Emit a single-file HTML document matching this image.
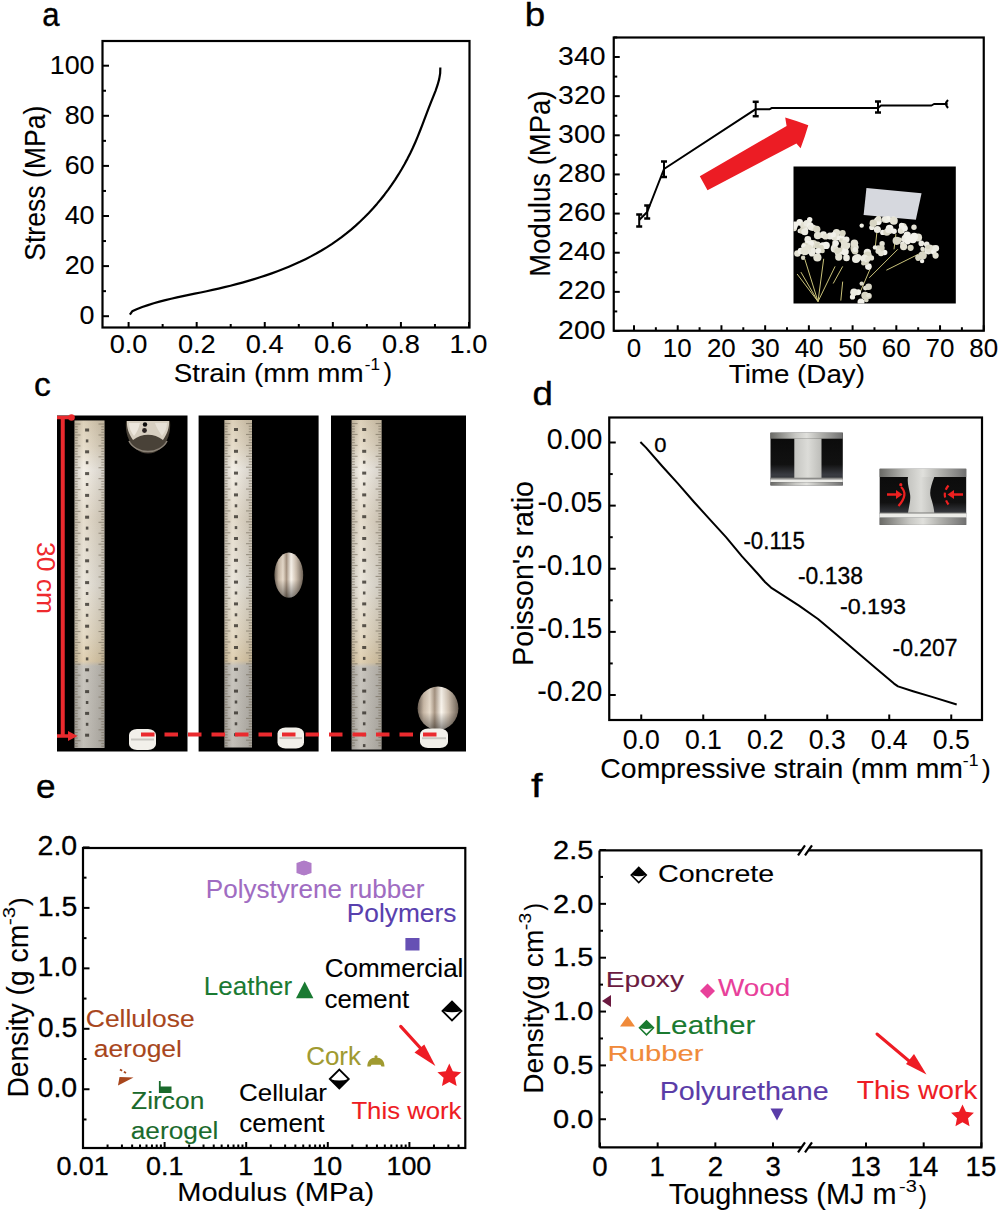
<!DOCTYPE html>
<html><head><meta charset="utf-8"><style>
html,body{margin:0;padding:0;background:#fff;}
svg{display:block;}
text{font-family:"Liberation Sans",sans-serif;}
</style></head><body>
<svg width="1000" height="1213" viewBox="0 0 1000 1213">
<rect width="1000" height="1213" fill="#fff"/>
<text transform="translate(42.18,26.30) scale(0.9161,1)" font-size="34" fill="#000" stroke="#000" stroke-width="0.35">a</text>
<text transform="translate(524.64,26.30) scale(1.0791,1)" font-size="34" fill="#000" stroke="#000" stroke-width="0.35">b</text>
<text transform="translate(34.07,395.70) scale(0.9891,1)" font-size="34" fill="#000" stroke="#000" stroke-width="0.35">c</text>
<text transform="translate(532.46,405.00) scale(1.0791,1)" font-size="34" fill="#000" stroke="#000" stroke-width="0.35">d</text>
<text transform="translate(36.01,797.50) scale(1.0342,1)" font-size="34" fill="#000" stroke="#000" stroke-width="0.35">e</text>
<text transform="translate(530.91,797.30) scale(1.2202,1)" font-size="34" fill="#000" stroke="#000" stroke-width="0.35">f</text>
<rect x="102.50" y="41.00" width="367.00" height="286.50" fill="none" stroke="#000" stroke-width="2.2"/>
<line x1="102.50" y1="316.20" x2="109.00" y2="316.20" stroke="#000" stroke-width="2"/>
<text transform="translate(79.60,324.35) scale(1.0300,1)" font-size="26.1" fill="#000" stroke="#000" stroke-width="0.1">0</text>
<line x1="102.50" y1="291.15" x2="106.00" y2="291.15" stroke="#000" stroke-width="2"/>
<line x1="102.50" y1="266.10" x2="109.00" y2="266.10" stroke="#000" stroke-width="2"/>
<text transform="translate(64.65,274.25) scale(1.0300,1)" font-size="26.1" fill="#000" stroke="#000" stroke-width="0.1">20</text>
<line x1="102.50" y1="241.05" x2="106.00" y2="241.05" stroke="#000" stroke-width="2"/>
<line x1="102.50" y1="216.00" x2="109.00" y2="216.00" stroke="#000" stroke-width="2"/>
<text transform="translate(64.65,224.15) scale(1.0300,1)" font-size="26.1" fill="#000" stroke="#000" stroke-width="0.1">40</text>
<line x1="102.50" y1="190.95" x2="106.00" y2="190.95" stroke="#000" stroke-width="2"/>
<line x1="102.50" y1="165.90" x2="109.00" y2="165.90" stroke="#000" stroke-width="2"/>
<text transform="translate(64.65,174.05) scale(1.0300,1)" font-size="26.1" fill="#000" stroke="#000" stroke-width="0.1">60</text>
<line x1="102.50" y1="140.85" x2="106.00" y2="140.85" stroke="#000" stroke-width="2"/>
<line x1="102.50" y1="115.80" x2="109.00" y2="115.80" stroke="#000" stroke-width="2"/>
<text transform="translate(64.65,123.95) scale(1.0300,1)" font-size="26.1" fill="#000" stroke="#000" stroke-width="0.1">80</text>
<line x1="102.50" y1="90.75" x2="106.00" y2="90.75" stroke="#000" stroke-width="2"/>
<line x1="102.50" y1="65.70" x2="109.00" y2="65.70" stroke="#000" stroke-width="2"/>
<text transform="translate(49.70,73.85) scale(1.0300,1)" font-size="26.1" fill="#000" stroke="#000" stroke-width="0.1">100</text>
<line x1="128.60" y1="327.50" x2="128.60" y2="322.00" stroke="#000" stroke-width="2"/>
<text transform="translate(109.66,352.85) scale(1.0900,1)" font-size="25.0" fill="#000" stroke="#000" stroke-width="0.1">0.0</text>
<line x1="162.64" y1="327.50" x2="162.64" y2="324.00" stroke="#000" stroke-width="2"/>
<line x1="196.68" y1="327.50" x2="196.68" y2="322.00" stroke="#000" stroke-width="2"/>
<text transform="translate(177.89,352.85) scale(1.0900,1)" font-size="25.0" fill="#000" stroke="#000" stroke-width="0.1">0.2</text>
<line x1="230.72" y1="327.50" x2="230.72" y2="324.00" stroke="#000" stroke-width="2"/>
<line x1="264.76" y1="327.50" x2="264.76" y2="322.00" stroke="#000" stroke-width="2"/>
<text transform="translate(245.69,352.85) scale(1.0900,1)" font-size="25.0" fill="#000" stroke="#000" stroke-width="0.1">0.4</text>
<line x1="298.80" y1="327.50" x2="298.80" y2="324.00" stroke="#000" stroke-width="2"/>
<line x1="332.84" y1="327.50" x2="332.84" y2="322.00" stroke="#000" stroke-width="2"/>
<text transform="translate(313.97,352.85) scale(1.0900,1)" font-size="25.0" fill="#000" stroke="#000" stroke-width="0.1">0.6</text>
<line x1="366.88" y1="327.50" x2="366.88" y2="324.00" stroke="#000" stroke-width="2"/>
<line x1="400.92" y1="327.50" x2="400.92" y2="322.00" stroke="#000" stroke-width="2"/>
<text transform="translate(382.04,352.85) scale(1.0900,1)" font-size="25.0" fill="#000" stroke="#000" stroke-width="0.1">0.8</text>
<line x1="434.96" y1="327.50" x2="434.96" y2="324.00" stroke="#000" stroke-width="2"/>
<line x1="469.00" y1="327.50" x2="469.00" y2="322.00" stroke="#000" stroke-width="2"/>
<text transform="translate(449.55,352.85) scale(1.0900,1)" font-size="25.0" fill="#000" stroke="#000" stroke-width="0.1">1.0</text>
<text transform="translate(173.74,382.00) scale(1.0448,1)" font-size="26.6" fill="#000" stroke="#000" stroke-width="0.1">Strain (mm mm</text>
<text transform="translate(364.84,369.80) scale(1.0680,1)" font-size="16" fill="#000" stroke="#000" stroke-width="0.1">-1</text>
<text transform="translate(383.45,381.40) scale(0.9864,1)" font-size="26" fill="#000" stroke="#000" stroke-width="0.1">)</text>
<text transform="translate(45.30,259.60) rotate(-90) scale(0.9021,1) translate(-1.34,0)" font-size="29.5" fill="#000" stroke="#000" stroke-width="0.1">Stress (MPa)</text>
<polyline points="129.90,314.70 132.20,311.30 136.61,309.28 142.24,307.08 147.97,305.11 153.72,303.31 159.51,301.66 165.32,300.14 171.16,298.73 177.03,297.39 182.91,296.12 188.81,294.89 194.73,293.68 200.67,292.46 206.62,291.22 212.57,289.93 218.54,288.59 224.50,287.18 230.47,285.72 236.42,284.18 242.36,282.58 248.28,280.90 254.18,279.15 260.06,277.31 265.90,275.38 271.70,273.36 277.46,271.25 283.18,269.04 288.85,266.73 294.45,264.31 300.00,261.79 305.49,259.14 310.90,256.38 316.24,253.50 321.50,250.49 326.67,247.35 331.76,244.07 336.75,240.66 341.64,237.10 346.43,233.41 351.12,229.57 355.70,225.60 360.17,221.50 364.53,217.28 368.78,212.94 372.92,208.48 376.93,203.91 380.83,199.24 384.61,194.46 388.27,189.59 391.80,184.63 395.21,179.58 398.48,174.45 401.63,169.24 404.64,163.96 407.52,158.61 410.27,153.19 412.87,147.72 415.34,142.19 417.69,136.62 419.94,131.00 422.14,125.33 424.31,119.64 426.48,113.91 428.67,108.15 430.93,102.38 433.25,96.58 435.54,90.78 437.58,84.97 439.19,79.15 440.17,73.34 440.33,67.53" fill="none" stroke="#000" stroke-width="2.2" stroke-linejoin="round"/>
<rect x="613.75" y="37.50" width="370.00" height="293.25" fill="none" stroke="#000" stroke-width="2.2"/>
<line x1="613.75" y1="331.00" x2="619.75" y2="331.00" stroke="#000" stroke-width="2"/>
<text transform="translate(558.10,338.50) scale(1.1100,1)" font-size="25.6" fill="#000" stroke="#000" stroke-width="0.1">200</text>
<line x1="613.75" y1="311.43" x2="617.25" y2="311.43" stroke="#000" stroke-width="2"/>
<line x1="613.75" y1="291.86" x2="619.75" y2="291.86" stroke="#000" stroke-width="2"/>
<text transform="translate(558.10,299.36) scale(1.1100,1)" font-size="25.6" fill="#000" stroke="#000" stroke-width="0.1">220</text>
<line x1="613.75" y1="272.29" x2="617.25" y2="272.29" stroke="#000" stroke-width="2"/>
<line x1="613.75" y1="252.72" x2="619.75" y2="252.72" stroke="#000" stroke-width="2"/>
<text transform="translate(558.10,260.22) scale(1.1100,1)" font-size="25.6" fill="#000" stroke="#000" stroke-width="0.1">240</text>
<line x1="613.75" y1="233.15" x2="617.25" y2="233.15" stroke="#000" stroke-width="2"/>
<line x1="613.75" y1="213.58" x2="619.75" y2="213.58" stroke="#000" stroke-width="2"/>
<text transform="translate(558.10,221.08) scale(1.1100,1)" font-size="25.6" fill="#000" stroke="#000" stroke-width="0.1">260</text>
<line x1="613.75" y1="194.01" x2="617.25" y2="194.01" stroke="#000" stroke-width="2"/>
<line x1="613.75" y1="174.44" x2="619.75" y2="174.44" stroke="#000" stroke-width="2"/>
<text transform="translate(558.10,181.94) scale(1.1100,1)" font-size="25.6" fill="#000" stroke="#000" stroke-width="0.1">280</text>
<line x1="613.75" y1="154.87" x2="617.25" y2="154.87" stroke="#000" stroke-width="2"/>
<line x1="613.75" y1="135.30" x2="619.75" y2="135.30" stroke="#000" stroke-width="2"/>
<text transform="translate(558.10,142.80) scale(1.1100,1)" font-size="25.6" fill="#000" stroke="#000" stroke-width="0.1">300</text>
<line x1="613.75" y1="115.73" x2="617.25" y2="115.73" stroke="#000" stroke-width="2"/>
<line x1="613.75" y1="96.16" x2="619.75" y2="96.16" stroke="#000" stroke-width="2"/>
<text transform="translate(558.10,103.66) scale(1.1100,1)" font-size="25.6" fill="#000" stroke="#000" stroke-width="0.1">320</text>
<line x1="613.75" y1="76.59" x2="617.25" y2="76.59" stroke="#000" stroke-width="2"/>
<line x1="613.75" y1="57.02" x2="619.75" y2="57.02" stroke="#000" stroke-width="2"/>
<text transform="translate(558.10,64.52) scale(1.1100,1)" font-size="25.6" fill="#000" stroke="#000" stroke-width="0.1">340</text>
<line x1="613.75" y1="37.45" x2="617.25" y2="37.45" stroke="#000" stroke-width="2"/>
<line x1="634.00" y1="330.75" x2="634.00" y2="325.25" stroke="#000" stroke-width="2"/>
<text transform="translate(626.80,356.85) scale(1.0000,1)" font-size="25.9" fill="#000" stroke="#000" stroke-width="0.1">0</text>
<line x1="655.86" y1="330.75" x2="655.86" y2="327.25" stroke="#000" stroke-width="2"/>
<line x1="677.72" y1="330.75" x2="677.72" y2="325.25" stroke="#000" stroke-width="2"/>
<text transform="translate(662.84,356.85) scale(1.0000,1)" font-size="25.9" fill="#000" stroke="#000" stroke-width="0.1">10</text>
<line x1="699.58" y1="330.75" x2="699.58" y2="327.25" stroke="#000" stroke-width="2"/>
<line x1="721.44" y1="330.75" x2="721.44" y2="325.25" stroke="#000" stroke-width="2"/>
<text transform="translate(706.89,356.85) scale(1.0000,1)" font-size="25.9" fill="#000" stroke="#000" stroke-width="0.1">20</text>
<line x1="743.30" y1="330.75" x2="743.30" y2="327.25" stroke="#000" stroke-width="2"/>
<line x1="765.16" y1="330.75" x2="765.16" y2="325.25" stroke="#000" stroke-width="2"/>
<text transform="translate(750.77,356.85) scale(1.0000,1)" font-size="25.9" fill="#000" stroke="#000" stroke-width="0.1">30</text>
<line x1="787.02" y1="330.75" x2="787.02" y2="327.25" stroke="#000" stroke-width="2"/>
<line x1="808.88" y1="330.75" x2="808.88" y2="325.25" stroke="#000" stroke-width="2"/>
<text transform="translate(794.68,356.85) scale(1.0000,1)" font-size="25.9" fill="#000" stroke="#000" stroke-width="0.1">40</text>
<line x1="830.74" y1="330.75" x2="830.74" y2="327.25" stroke="#000" stroke-width="2"/>
<line x1="852.60" y1="330.75" x2="852.60" y2="325.25" stroke="#000" stroke-width="2"/>
<text transform="translate(838.18,356.85) scale(1.0000,1)" font-size="25.9" fill="#000" stroke="#000" stroke-width="0.1">50</text>
<line x1="874.46" y1="330.75" x2="874.46" y2="327.25" stroke="#000" stroke-width="2"/>
<line x1="896.32" y1="330.75" x2="896.32" y2="325.25" stroke="#000" stroke-width="2"/>
<text transform="translate(881.76,356.85) scale(1.0000,1)" font-size="25.9" fill="#000" stroke="#000" stroke-width="0.1">60</text>
<line x1="918.18" y1="330.75" x2="918.18" y2="327.25" stroke="#000" stroke-width="2"/>
<line x1="940.04" y1="330.75" x2="940.04" y2="325.25" stroke="#000" stroke-width="2"/>
<text transform="translate(925.48,356.85) scale(1.0000,1)" font-size="25.9" fill="#000" stroke="#000" stroke-width="0.1">70</text>
<line x1="961.90" y1="330.75" x2="961.90" y2="327.25" stroke="#000" stroke-width="2"/>
<line x1="983.76" y1="330.75" x2="983.76" y2="325.25" stroke="#000" stroke-width="2"/>
<text transform="translate(969.30,356.85) scale(1.0000,1)" font-size="25.9" fill="#000" stroke="#000" stroke-width="0.1">80</text>
<text transform="translate(728.78,383.40) scale(1.0843,1)" font-size="25.6" fill="#000" stroke="#000" stroke-width="0.1">Time (Day)</text>
<text transform="translate(549.90,274.40) rotate(-90) scale(0.9468,1) translate(-2.38,0)" font-size="29.0" fill="#000" stroke="#000" stroke-width="0.1">Modulus (MPa)</text>
<polyline points="639.20,220.00 647.20,212.00 664.00,169.00 755.70,109.20 769.80,109.20 772.00,107.90 878.00,108.00 881.00,105.50 931.50,105.50 934.00,104.00 947.50,104.00" fill="none" stroke="#000" stroke-width="2.0" stroke-linejoin="round"/>
<line x1="639.20" y1="214.50" x2="639.20" y2="226.50" stroke="#000" stroke-width="2"/>
<line x1="636.20" y1="214.50" x2="642.20" y2="214.50" stroke="#000" stroke-width="2.5"/>
<line x1="636.20" y1="226.50" x2="642.20" y2="226.50" stroke="#000" stroke-width="2.5"/>
<line x1="647.20" y1="205.50" x2="647.20" y2="218.50" stroke="#000" stroke-width="2"/>
<line x1="644.20" y1="205.50" x2="650.20" y2="205.50" stroke="#000" stroke-width="2.5"/>
<line x1="644.20" y1="218.50" x2="650.20" y2="218.50" stroke="#000" stroke-width="2.5"/>
<line x1="664.00" y1="161.50" x2="664.00" y2="177.00" stroke="#000" stroke-width="2"/>
<line x1="661.00" y1="161.50" x2="667.00" y2="161.50" stroke="#000" stroke-width="2.5"/>
<line x1="661.00" y1="177.00" x2="667.00" y2="177.00" stroke="#000" stroke-width="2.5"/>
<line x1="755.70" y1="101.80" x2="755.70" y2="116.20" stroke="#000" stroke-width="2"/>
<line x1="752.70" y1="101.80" x2="758.70" y2="101.80" stroke="#000" stroke-width="2.5"/>
<line x1="752.70" y1="116.20" x2="758.70" y2="116.20" stroke="#000" stroke-width="2.5"/>
<line x1="878.00" y1="101.50" x2="878.00" y2="112.50" stroke="#000" stroke-width="2"/>
<line x1="875.00" y1="101.50" x2="881.00" y2="101.50" stroke="#000" stroke-width="2.5"/>
<line x1="875.00" y1="112.50" x2="881.00" y2="112.50" stroke="#000" stroke-width="2.5"/>
<path d="M948,100 Q944,104 948,108" fill="none" stroke="#000" stroke-width="2.2"/>
<polygon points="699.80,176.30 707.50,190.30 796.40,143.40 800.60,148.30 804.80,136.40 808.30,125.20 796.40,121.00 785.20,117.50 786.60,125.90" fill="#ec1c24"/>
<rect x="793.50" y="166.50" width="162.30" height="137.00" fill="#000"/>
<clipPath id="cb"><rect x="793.5" y="166.5" width="162.3" height="137"/></clipPath>
<g clip-path="url(#cb)">
<line x1="818.00" y1="301.55" x2="800.90" y2="272.10" stroke="#c9c27a" stroke-width="1.0"/>
<line x1="818.00" y1="301.55" x2="804.70" y2="258.80" stroke="#c9c27a" stroke-width="1.0"/>
<line x1="818.00" y1="301.55" x2="823.70" y2="258.80" stroke="#c9c27a" stroke-width="1.0"/>
<line x1="818.00" y1="301.55" x2="835.10" y2="266.40" stroke="#c9c27a" stroke-width="1.0"/>
<line x1="833.20" y1="283.50" x2="842.70" y2="266.40" stroke="#c9c27a" stroke-width="1.0"/>
<line x1="840.80" y1="300.60" x2="842.70" y2="281.60" stroke="#c9c27a" stroke-width="1.0"/>
<line x1="869.30" y1="277.80" x2="897.80" y2="249.30" stroke="#c9c27a" stroke-width="1.0"/>
<line x1="859.80" y1="293.00" x2="871.20" y2="266.40" stroke="#c9c27a" stroke-width="1.0"/>
<line x1="886.40" y1="270.20" x2="924.40" y2="251.20" stroke="#c9c27a" stroke-width="1.0"/>
<line x1="875.00" y1="249.30" x2="876.90" y2="232.20" stroke="#c9c27a" stroke-width="1.0"/>
<line x1="894.00" y1="249.30" x2="895.90" y2="234.10" stroke="#c9c27a" stroke-width="1.0"/>
<line x1="797.10" y1="274.00" x2="818.00" y2="301.55" stroke="#c9c27a" stroke-width="1.0"/>
<polygon points="866.45,188.12 921.55,193.25 915.85,219.85 863.60,215.10" fill="#d6d8de" filter="url(#fb)"/>
<filter id="fb" x="-10%" y="-10%" width="120%" height="120%"><feGaussianBlur stdDeviation="0.55"/></filter>
<g filter="url(#fb)">
<circle cx="804.3" cy="229.5" r="3.5" fill="#ecebe2"/>
<circle cx="808.4" cy="224.1" r="3.4" fill="#e4e2d4"/>
<circle cx="815.1" cy="227.8" r="2.3" fill="#ecebe2"/>
<circle cx="803.5" cy="225.8" r="3.3" fill="#e4e2d4"/>
<circle cx="799.7" cy="221.7" r="2.3" fill="#d8d6c4"/>
<circle cx="812.6" cy="227.7" r="3.3" fill="#e4e2d4"/>
<circle cx="805.4" cy="229.6" r="2.4" fill="#f2f1ea"/>
<circle cx="796.4" cy="223.9" r="2.4" fill="#e4e2d4"/>
<circle cx="799.8" cy="231.0" r="2.3" fill="#ecebe2"/>
<circle cx="799.7" cy="222.4" r="3.3" fill="#f2f1ea"/>
<circle cx="794.1" cy="228.3" r="2.9" fill="#e4e2d4"/>
<circle cx="809.7" cy="219.6" r="2.7" fill="#f2f1ea"/>
<circle cx="794.3" cy="225.2" r="3.7" fill="#f2f1ea"/>
<circle cx="803.8" cy="225.0" r="3.2" fill="#e4e2d4"/>
<circle cx="806.8" cy="223.2" r="3.2" fill="#ecebe2"/>
<circle cx="810.2" cy="225.9" r="3.3" fill="#f2f1ea"/>
<circle cx="802.4" cy="230.8" r="3.2" fill="#d8d6c4"/>
<circle cx="810.3" cy="227.6" r="2.7" fill="#ecebe2"/>
<circle cx="816.9" cy="229.2" r="3.5" fill="#d8d6c4"/>
<circle cx="804.8" cy="231.7" r="3.5" fill="#ecebe2"/>
<circle cx="842.1" cy="239.4" r="3.4" fill="#d8d6c4"/>
<circle cx="848.0" cy="245.0" r="2.5" fill="#e4e2d4"/>
<circle cx="811.9" cy="247.7" r="3.2" fill="#e4e2d4"/>
<circle cx="813.4" cy="244.1" r="4.0" fill="#d8d6c4"/>
<circle cx="837.3" cy="237.5" r="3.0" fill="#f2f1ea"/>
<circle cx="823.6" cy="235.8" r="2.7" fill="#ecebe2"/>
<circle cx="834.3" cy="246.2" r="2.7" fill="#d8d6c4"/>
<circle cx="834.1" cy="237.8" r="2.8" fill="#e4e2d4"/>
<circle cx="817.3" cy="244.8" r="3.3" fill="#e4e2d4"/>
<circle cx="823.4" cy="234.7" r="3.4" fill="#ecebe2"/>
<circle cx="808.9" cy="244.3" r="4.1" fill="#d8d6c4"/>
<circle cx="817.9" cy="245.6" r="3.2" fill="#d8d6c4"/>
<circle cx="834.9" cy="242.7" r="2.6" fill="#e4e2d4"/>
<circle cx="843.0" cy="246.9" r="2.4" fill="#e4e2d4"/>
<circle cx="807.8" cy="239.4" r="3.4" fill="#ecebe2"/>
<circle cx="842.0" cy="235.9" r="2.5" fill="#f2f1ea"/>
<circle cx="846.4" cy="239.5" r="3.1" fill="#ecebe2"/>
<circle cx="842.6" cy="233.2" r="3.1" fill="#d8d6c4"/>
<circle cx="826.1" cy="245.4" r="3.7" fill="#f2f1ea"/>
<circle cx="810.6" cy="242.9" r="3.2" fill="#e4e2d4"/>
<circle cx="845.2" cy="239.4" r="2.5" fill="#ecebe2"/>
<circle cx="830.0" cy="236.0" r="3.5" fill="#ecebe2"/>
<circle cx="825.5" cy="236.7" r="2.9" fill="#e4e2d4"/>
<circle cx="822.8" cy="245.6" r="3.3" fill="#f2f1ea"/>
<circle cx="817.7" cy="235.5" r="3.8" fill="#e4e2d4"/>
<circle cx="836.5" cy="232.8" r="3.7" fill="#e4e2d4"/>
<circle cx="834.4" cy="248.7" r="3.7" fill="#ecebe2"/>
<circle cx="833.3" cy="234.7" r="2.6" fill="#f2f1ea"/>
<circle cx="808.5" cy="245.0" r="4.2" fill="#f2f1ea"/>
<circle cx="835.8" cy="243.3" r="3.1" fill="#f2f1ea"/>
<circle cx="856.0" cy="259.1" r="4.0" fill="#ecebe2"/>
<circle cx="838.5" cy="252.3" r="3.8" fill="#ecebe2"/>
<circle cx="855.2" cy="248.1" r="3.0" fill="#e4e2d4"/>
<circle cx="845.0" cy="251.8" r="3.8" fill="#f2f1ea"/>
<circle cx="866.4" cy="256.5" r="3.6" fill="#d8d6c4"/>
<circle cx="838.7" cy="257.1" r="3.6" fill="#e4e2d4"/>
<circle cx="855.0" cy="251.1" r="3.4" fill="#d8d6c4"/>
<circle cx="854.5" cy="247.5" r="3.9" fill="#d8d6c4"/>
<circle cx="846.6" cy="246.0" r="3.3" fill="#e4e2d4"/>
<circle cx="867.4" cy="252.5" r="3.7" fill="#ecebe2"/>
<circle cx="835.9" cy="249.5" r="3.1" fill="#e4e2d4"/>
<circle cx="855.8" cy="246.9" r="2.7" fill="#f2f1ea"/>
<circle cx="837.3" cy="251.1" r="2.9" fill="#d8d6c4"/>
<circle cx="854.3" cy="249.0" r="3.7" fill="#d8d6c4"/>
<circle cx="844.1" cy="243.2" r="3.2" fill="#e4e2d4"/>
<circle cx="840.1" cy="249.7" r="2.2" fill="#d8d6c4"/>
<circle cx="854.4" cy="243.2" r="3.8" fill="#e4e2d4"/>
<circle cx="857.7" cy="257.6" r="3.7" fill="#ecebe2"/>
<circle cx="846.5" cy="257.9" r="3.3" fill="#ecebe2"/>
<circle cx="855.2" cy="249.5" r="2.6" fill="#ecebe2"/>
<circle cx="810.0" cy="245.2" r="3.3" fill="#ecebe2"/>
<circle cx="797.4" cy="253.5" r="3.2" fill="#e4e2d4"/>
<circle cx="804.9" cy="245.8" r="3.3" fill="#d8d6c4"/>
<circle cx="800.9" cy="251.0" r="3.2" fill="#f2f1ea"/>
<circle cx="821.2" cy="247.4" r="2.6" fill="#d8d6c4"/>
<circle cx="812.0" cy="253.5" r="3.1" fill="#ecebe2"/>
<circle cx="803.8" cy="246.3" r="2.6" fill="#f2f1ea"/>
<circle cx="811.5" cy="243.3" r="2.5" fill="#f2f1ea"/>
<circle cx="817.4" cy="257.5" r="4.1" fill="#e4e2d4"/>
<circle cx="808.4" cy="248.6" r="4.0" fill="#e4e2d4"/>
<circle cx="822.3" cy="250.7" r="2.5" fill="#d8d6c4"/>
<circle cx="818.2" cy="251.0" r="3.0" fill="#f2f1ea"/>
<circle cx="803.1" cy="257.8" r="2.2" fill="#d8d6c4"/>
<circle cx="806.6" cy="251.6" r="2.9" fill="#f2f1ea"/>
<circle cx="804.7" cy="251.0" r="4.2" fill="#e4e2d4"/>
<circle cx="813.3" cy="250.7" r="2.7" fill="#ecebe2"/>
<circle cx="866.6" cy="258.9" r="3.7" fill="#d8d6c4"/>
<circle cx="867.7" cy="255.6" r="4.1" fill="#d8d6c4"/>
<circle cx="868.4" cy="266.6" r="3.3" fill="#f2f1ea"/>
<circle cx="865.3" cy="261.7" r="3.6" fill="#d8d6c4"/>
<circle cx="867.1" cy="258.3" r="2.2" fill="#ecebe2"/>
<circle cx="864.4" cy="258.6" r="3.9" fill="#ecebe2"/>
<circle cx="863.3" cy="263.3" r="2.2" fill="#d8d6c4"/>
<circle cx="867.6" cy="259.0" r="2.5" fill="#e4e2d4"/>
<circle cx="871.4" cy="257.9" r="2.7" fill="#e4e2d4"/>
<circle cx="889.9" cy="231.1" r="2.8" fill="#e4e2d4"/>
<circle cx="882.7" cy="232.4" r="2.6" fill="#f2f1ea"/>
<circle cx="893.3" cy="218.5" r="2.3" fill="#ecebe2"/>
<circle cx="884.8" cy="220.2" r="2.6" fill="#d8d6c4"/>
<circle cx="886.8" cy="232.2" r="3.5" fill="#d8d6c4"/>
<circle cx="877.8" cy="221.2" r="4.0" fill="#f2f1ea"/>
<circle cx="878.5" cy="218.7" r="2.9" fill="#e4e2d4"/>
<circle cx="876.2" cy="229.3" r="2.3" fill="#e4e2d4"/>
<circle cx="902.9" cy="227.1" r="4.0" fill="#d8d6c4"/>
<circle cx="889.6" cy="228.6" r="3.9" fill="#f2f1ea"/>
<circle cx="872.3" cy="222.4" r="2.3" fill="#e4e2d4"/>
<circle cx="894.1" cy="231.3" r="2.7" fill="#f2f1ea"/>
<circle cx="901.6" cy="225.4" r="2.7" fill="#f2f1ea"/>
<circle cx="888.2" cy="230.1" r="2.9" fill="#ecebe2"/>
<circle cx="871.8" cy="227.5" r="2.6" fill="#ecebe2"/>
<circle cx="902.3" cy="230.7" r="2.5" fill="#ecebe2"/>
<circle cx="877.4" cy="229.4" r="3.5" fill="#ecebe2"/>
<circle cx="873.3" cy="223.3" r="3.7" fill="#d8d6c4"/>
<circle cx="888.0" cy="219.3" r="3.2" fill="#f2f1ea"/>
<circle cx="883.7" cy="219.7" r="2.3" fill="#d8d6c4"/>
<circle cx="884.5" cy="218.8" r="2.5" fill="#ecebe2"/>
<circle cx="893.8" cy="220.7" r="4.0" fill="#e4e2d4"/>
<circle cx="911.7" cy="239.2" r="3.5" fill="#ecebe2"/>
<circle cx="902.4" cy="243.7" r="2.3" fill="#ecebe2"/>
<circle cx="901.0" cy="230.6" r="3.2" fill="#ecebe2"/>
<circle cx="905.6" cy="238.8" r="4.1" fill="#ecebe2"/>
<circle cx="907.2" cy="235.2" r="3.7" fill="#f2f1ea"/>
<circle cx="914.0" cy="227.3" r="2.7" fill="#e4e2d4"/>
<circle cx="910.6" cy="247.8" r="3.1" fill="#d8d6c4"/>
<circle cx="921.3" cy="243.4" r="2.8" fill="#ecebe2"/>
<circle cx="900.7" cy="231.3" r="2.4" fill="#e4e2d4"/>
<circle cx="903.6" cy="246.6" r="3.6" fill="#e4e2d4"/>
<circle cx="912.7" cy="238.1" r="2.7" fill="#ecebe2"/>
<circle cx="905.0" cy="228.4" r="2.8" fill="#f2f1ea"/>
<circle cx="899.7" cy="239.8" r="2.4" fill="#e4e2d4"/>
<circle cx="907.6" cy="241.3" r="3.1" fill="#f2f1ea"/>
<circle cx="896.7" cy="240.8" r="4.1" fill="#d8d6c4"/>
<circle cx="918.1" cy="237.6" r="4.0" fill="#e4e2d4"/>
<circle cx="913.0" cy="239.6" r="3.7" fill="#f2f1ea"/>
<circle cx="914.2" cy="236.6" r="3.8" fill="#f2f1ea"/>
<circle cx="933.5" cy="247.9" r="2.7" fill="#d8d6c4"/>
<circle cx="922.7" cy="255.4" r="4.1" fill="#d8d6c4"/>
<circle cx="918.2" cy="257.6" r="3.0" fill="#d8d6c4"/>
<circle cx="922.1" cy="261.1" r="2.2" fill="#f2f1ea"/>
<circle cx="928.4" cy="250.3" r="4.1" fill="#ecebe2"/>
<circle cx="931.3" cy="250.1" r="2.9" fill="#d8d6c4"/>
<circle cx="918.1" cy="258.7" r="2.4" fill="#d8d6c4"/>
<circle cx="926.7" cy="244.3" r="2.8" fill="#ecebe2"/>
<circle cx="929.4" cy="248.7" r="4.1" fill="#e4e2d4"/>
<circle cx="933.7" cy="252.0" r="2.8" fill="#f2f1ea"/>
<circle cx="927.9" cy="247.0" r="2.3" fill="#d8d6c4"/>
<circle cx="935.8" cy="248.3" r="3.3" fill="#ecebe2"/>
<circle cx="935.6" cy="255.6" r="3.1" fill="#e4e2d4"/>
<circle cx="922.6" cy="249.1" r="2.3" fill="#e4e2d4"/>
<circle cx="884.6" cy="252.5" r="2.8" fill="#f2f1ea"/>
<circle cx="882.1" cy="243.7" r="2.7" fill="#e4e2d4"/>
<circle cx="881.0" cy="253.3" r="3.0" fill="#e4e2d4"/>
<circle cx="881.5" cy="248.1" r="3.2" fill="#d8d6c4"/>
<circle cx="878.3" cy="248.1" r="2.9" fill="#d8d6c4"/>
<circle cx="878.2" cy="251.2" r="2.7" fill="#e4e2d4"/>
<circle cx="857.9" cy="292.6" r="2.7" fill="#f2f1ea"/>
<circle cx="861.7" cy="283.6" r="2.2" fill="#d8d6c4"/>
<circle cx="852.5" cy="296.9" r="2.6" fill="#f2f1ea"/>
<circle cx="858.3" cy="292.0" r="2.8" fill="#f2f1ea"/>
<circle cx="865.5" cy="295.9" r="3.5" fill="#e4e2d4"/>
<circle cx="868.8" cy="296.1" r="3.0" fill="#d8d6c4"/>
<circle cx="854.0" cy="292.3" r="3.8" fill="#ecebe2"/>
<circle cx="865.0" cy="295.4" r="3.7" fill="#d8d6c4"/>
<circle cx="867.6" cy="287.4" r="2.3" fill="#d8d6c4"/>
<circle cx="865.4" cy="288.1" r="2.4" fill="#e4e2d4"/>
<circle cx="866.3" cy="299.9" r="2.4" fill="#d8d6c4"/>
<circle cx="868.5" cy="295.2" r="2.2" fill="#e4e2d4"/>
<circle cx="861.0" cy="301.9" r="3.5" fill="#f2f1ea"/>
<circle cx="868.6" cy="286.7" r="3.3" fill="#d8d6c4"/>
<circle cx="861.7" cy="225.6" r="2.2" fill="#eeeee4"/>
<circle cx="875.0" cy="247.4" r="2.2" fill="#eeeee4"/>
<circle cx="886.4" cy="220.8" r="2.2" fill="#eeeee4"/>
</g>
</g>
<defs>
<linearGradient id="rul" x1="0" y1="0" x2="0" y2="1">
<stop offset="0" stop-color="#d8cab0"/><stop offset="0.08" stop-color="#e4d9c4"/><stop offset="0.15" stop-color="#f2ede4"/><stop offset="0.3" stop-color="#e2d8c6"/>
<stop offset="0.5" stop-color="#e8e3d8"/><stop offset="0.66" stop-color="#e2d6be"/><stop offset="0.735" stop-color="#dccaa8"/><stop offset="0.75" stop-color="#c2beb6"/><stop offset="1" stop-color="#bab6ae"/>
</linearGradient>
<linearGradient id="rul2" x1="0" y1="0" x2="1" y2="0">
<stop offset="0" stop-color="#000" stop-opacity="0.15"/><stop offset="0.3" stop-color="#fff" stop-opacity="0.12"/><stop offset="1" stop-color="#000" stop-opacity="0.12"/>
</linearGradient>
<radialGradient id="met" cx="0.45" cy="0.4" r="0.6">
<stop offset="0" stop-color="#e8e4de"/><stop offset="0.45" stop-color="#b0a89e"/><stop offset="0.8" stop-color="#6a625a"/><stop offset="1" stop-color="#3a342e"/>
</radialGradient>
</defs>
<rect x="57.00" y="415.50" width="130.50" height="336.00" fill="#000"/>
<rect x="198.60" y="415.50" width="120.00" height="336.00" fill="#000"/>
<rect x="331.00" y="415.50" width="135.00" height="336.00" fill="#000"/>
<rect x="74.50" y="420.50" width="30.00" height="327.50" fill="url(#rul)"/>
<rect x="74.50" y="420.50" width="30.00" height="327.50" fill="url(#rul2)"/>
<rect x="85.10" y="428.50" width="4.00" height="3.00" fill="#2a2620" opacity="0.75"/>
<rect x="85.85" y="439.40" width="2.50" height="3.00" fill="#2a2620" opacity="0.75"/>
<rect x="85.10" y="450.30" width="4.00" height="3.00" fill="#2a2620" opacity="0.75"/>
<rect x="85.85" y="461.20" width="2.50" height="3.00" fill="#2a2620" opacity="0.75"/>
<rect x="85.10" y="472.10" width="4.00" height="3.00" fill="#2a2620" opacity="0.75"/>
<rect x="85.85" y="483.00" width="2.50" height="3.00" fill="#2a2620" opacity="0.75"/>
<rect x="85.10" y="493.90" width="4.00" height="3.00" fill="#2a2620" opacity="0.75"/>
<rect x="85.85" y="504.80" width="2.50" height="3.00" fill="#2a2620" opacity="0.75"/>
<rect x="85.10" y="515.70" width="4.00" height="3.00" fill="#2a2620" opacity="0.75"/>
<rect x="85.85" y="526.60" width="2.50" height="3.00" fill="#2a2620" opacity="0.75"/>
<rect x="85.10" y="537.50" width="4.00" height="3.00" fill="#2a2620" opacity="0.75"/>
<rect x="85.85" y="548.40" width="2.50" height="3.00" fill="#2a2620" opacity="0.75"/>
<rect x="85.10" y="559.30" width="4.00" height="3.00" fill="#2a2620" opacity="0.75"/>
<rect x="85.85" y="570.20" width="2.50" height="3.00" fill="#2a2620" opacity="0.75"/>
<rect x="85.10" y="581.10" width="4.00" height="3.00" fill="#2a2620" opacity="0.75"/>
<rect x="85.85" y="592.00" width="2.50" height="3.00" fill="#2a2620" opacity="0.75"/>
<rect x="85.10" y="602.90" width="4.00" height="3.00" fill="#2a2620" opacity="0.75"/>
<rect x="85.85" y="613.80" width="2.50" height="3.00" fill="#2a2620" opacity="0.75"/>
<rect x="85.10" y="624.70" width="4.00" height="3.00" fill="#2a2620" opacity="0.75"/>
<rect x="85.85" y="635.60" width="2.50" height="3.00" fill="#2a2620" opacity="0.75"/>
<rect x="85.10" y="646.50" width="4.00" height="3.00" fill="#2a2620" opacity="0.75"/>
<rect x="85.85" y="657.40" width="2.50" height="3.00" fill="#2a2620" opacity="0.75"/>
<rect x="85.10" y="668.30" width="4.00" height="3.00" fill="#2a2620" opacity="0.75"/>
<rect x="85.85" y="679.20" width="2.50" height="3.00" fill="#2a2620" opacity="0.75"/>
<rect x="85.10" y="690.10" width="4.00" height="3.00" fill="#2a2620" opacity="0.75"/>
<rect x="85.85" y="701.00" width="2.50" height="3.00" fill="#2a2620" opacity="0.75"/>
<rect x="85.10" y="711.90" width="4.00" height="3.00" fill="#2a2620" opacity="0.75"/>
<rect x="85.85" y="722.80" width="2.50" height="3.00" fill="#2a2620" opacity="0.75"/>
<rect x="85.10" y="733.70" width="4.00" height="3.00" fill="#2a2620" opacity="0.75"/>
<rect x="74.50" y="423.50" width="6.00" height="1.10" fill="#6e6454" opacity="0.55"/>
<rect x="98.50" y="423.50" width="6.00" height="1.10" fill="#6e6454" opacity="0.55"/>
<rect x="74.50" y="426.23" width="3.20" height="1.10" fill="#6e6454" opacity="0.55"/>
<rect x="101.30" y="426.23" width="3.20" height="1.10" fill="#6e6454" opacity="0.55"/>
<rect x="74.50" y="428.96" width="3.20" height="1.10" fill="#6e6454" opacity="0.55"/>
<rect x="101.30" y="428.96" width="3.20" height="1.10" fill="#6e6454" opacity="0.55"/>
<rect x="74.50" y="431.69" width="3.20" height="1.10" fill="#6e6454" opacity="0.55"/>
<rect x="101.30" y="431.69" width="3.20" height="1.10" fill="#6e6454" opacity="0.55"/>
<rect x="74.50" y="434.42" width="6.00" height="1.10" fill="#6e6454" opacity="0.55"/>
<rect x="98.50" y="434.42" width="6.00" height="1.10" fill="#6e6454" opacity="0.55"/>
<rect x="74.50" y="437.15" width="3.20" height="1.10" fill="#6e6454" opacity="0.55"/>
<rect x="101.30" y="437.15" width="3.20" height="1.10" fill="#6e6454" opacity="0.55"/>
<rect x="74.50" y="439.88" width="3.20" height="1.10" fill="#6e6454" opacity="0.55"/>
<rect x="101.30" y="439.88" width="3.20" height="1.10" fill="#6e6454" opacity="0.55"/>
<rect x="74.50" y="442.61" width="3.20" height="1.10" fill="#6e6454" opacity="0.55"/>
<rect x="101.30" y="442.61" width="3.20" height="1.10" fill="#6e6454" opacity="0.55"/>
<rect x="74.50" y="445.34" width="6.00" height="1.10" fill="#6e6454" opacity="0.55"/>
<rect x="98.50" y="445.34" width="6.00" height="1.10" fill="#6e6454" opacity="0.55"/>
<rect x="74.50" y="448.07" width="3.20" height="1.10" fill="#6e6454" opacity="0.55"/>
<rect x="101.30" y="448.07" width="3.20" height="1.10" fill="#6e6454" opacity="0.55"/>
<rect x="74.50" y="450.80" width="3.20" height="1.10" fill="#6e6454" opacity="0.55"/>
<rect x="101.30" y="450.80" width="3.20" height="1.10" fill="#6e6454" opacity="0.55"/>
<rect x="74.50" y="453.53" width="3.20" height="1.10" fill="#6e6454" opacity="0.55"/>
<rect x="101.30" y="453.53" width="3.20" height="1.10" fill="#6e6454" opacity="0.55"/>
<rect x="74.50" y="456.26" width="6.00" height="1.10" fill="#6e6454" opacity="0.55"/>
<rect x="98.50" y="456.26" width="6.00" height="1.10" fill="#6e6454" opacity="0.55"/>
<rect x="74.50" y="458.99" width="3.20" height="1.10" fill="#6e6454" opacity="0.55"/>
<rect x="101.30" y="458.99" width="3.20" height="1.10" fill="#6e6454" opacity="0.55"/>
<rect x="74.50" y="461.72" width="3.20" height="1.10" fill="#6e6454" opacity="0.55"/>
<rect x="101.30" y="461.72" width="3.20" height="1.10" fill="#6e6454" opacity="0.55"/>
<rect x="74.50" y="464.45" width="3.20" height="1.10" fill="#6e6454" opacity="0.55"/>
<rect x="101.30" y="464.45" width="3.20" height="1.10" fill="#6e6454" opacity="0.55"/>
<rect x="74.50" y="467.18" width="6.00" height="1.10" fill="#6e6454" opacity="0.55"/>
<rect x="98.50" y="467.18" width="6.00" height="1.10" fill="#6e6454" opacity="0.55"/>
<rect x="74.50" y="469.91" width="3.20" height="1.10" fill="#6e6454" opacity="0.55"/>
<rect x="101.30" y="469.91" width="3.20" height="1.10" fill="#6e6454" opacity="0.55"/>
<rect x="74.50" y="472.64" width="3.20" height="1.10" fill="#6e6454" opacity="0.55"/>
<rect x="101.30" y="472.64" width="3.20" height="1.10" fill="#6e6454" opacity="0.55"/>
<rect x="74.50" y="475.37" width="3.20" height="1.10" fill="#6e6454" opacity="0.55"/>
<rect x="101.30" y="475.37" width="3.20" height="1.10" fill="#6e6454" opacity="0.55"/>
<rect x="74.50" y="478.10" width="6.00" height="1.10" fill="#6e6454" opacity="0.55"/>
<rect x="98.50" y="478.10" width="6.00" height="1.10" fill="#6e6454" opacity="0.55"/>
<rect x="74.50" y="480.83" width="3.20" height="1.10" fill="#6e6454" opacity="0.55"/>
<rect x="101.30" y="480.83" width="3.20" height="1.10" fill="#6e6454" opacity="0.55"/>
<rect x="74.50" y="483.56" width="3.20" height="1.10" fill="#6e6454" opacity="0.55"/>
<rect x="101.30" y="483.56" width="3.20" height="1.10" fill="#6e6454" opacity="0.55"/>
<rect x="74.50" y="486.29" width="3.20" height="1.10" fill="#6e6454" opacity="0.55"/>
<rect x="101.30" y="486.29" width="3.20" height="1.10" fill="#6e6454" opacity="0.55"/>
<rect x="74.50" y="489.02" width="6.00" height="1.10" fill="#6e6454" opacity="0.55"/>
<rect x="98.50" y="489.02" width="6.00" height="1.10" fill="#6e6454" opacity="0.55"/>
<rect x="74.50" y="491.75" width="3.20" height="1.10" fill="#6e6454" opacity="0.55"/>
<rect x="101.30" y="491.75" width="3.20" height="1.10" fill="#6e6454" opacity="0.55"/>
<rect x="74.50" y="494.48" width="3.20" height="1.10" fill="#6e6454" opacity="0.55"/>
<rect x="101.30" y="494.48" width="3.20" height="1.10" fill="#6e6454" opacity="0.55"/>
<rect x="74.50" y="497.21" width="3.20" height="1.10" fill="#6e6454" opacity="0.55"/>
<rect x="101.30" y="497.21" width="3.20" height="1.10" fill="#6e6454" opacity="0.55"/>
<rect x="74.50" y="499.94" width="6.00" height="1.10" fill="#6e6454" opacity="0.55"/>
<rect x="98.50" y="499.94" width="6.00" height="1.10" fill="#6e6454" opacity="0.55"/>
<rect x="74.50" y="502.67" width="3.20" height="1.10" fill="#6e6454" opacity="0.55"/>
<rect x="101.30" y="502.67" width="3.20" height="1.10" fill="#6e6454" opacity="0.55"/>
<rect x="74.50" y="505.40" width="3.20" height="1.10" fill="#6e6454" opacity="0.55"/>
<rect x="101.30" y="505.40" width="3.20" height="1.10" fill="#6e6454" opacity="0.55"/>
<rect x="74.50" y="508.13" width="3.20" height="1.10" fill="#6e6454" opacity="0.55"/>
<rect x="101.30" y="508.13" width="3.20" height="1.10" fill="#6e6454" opacity="0.55"/>
<rect x="74.50" y="510.86" width="6.00" height="1.10" fill="#6e6454" opacity="0.55"/>
<rect x="98.50" y="510.86" width="6.00" height="1.10" fill="#6e6454" opacity="0.55"/>
<rect x="74.50" y="513.59" width="3.20" height="1.10" fill="#6e6454" opacity="0.55"/>
<rect x="101.30" y="513.59" width="3.20" height="1.10" fill="#6e6454" opacity="0.55"/>
<rect x="74.50" y="516.32" width="3.20" height="1.10" fill="#6e6454" opacity="0.55"/>
<rect x="101.30" y="516.32" width="3.20" height="1.10" fill="#6e6454" opacity="0.55"/>
<rect x="74.50" y="519.05" width="3.20" height="1.10" fill="#6e6454" opacity="0.55"/>
<rect x="101.30" y="519.05" width="3.20" height="1.10" fill="#6e6454" opacity="0.55"/>
<rect x="74.50" y="521.78" width="6.00" height="1.10" fill="#6e6454" opacity="0.55"/>
<rect x="98.50" y="521.78" width="6.00" height="1.10" fill="#6e6454" opacity="0.55"/>
<rect x="74.50" y="524.51" width="3.20" height="1.10" fill="#6e6454" opacity="0.55"/>
<rect x="101.30" y="524.51" width="3.20" height="1.10" fill="#6e6454" opacity="0.55"/>
<rect x="74.50" y="527.24" width="3.20" height="1.10" fill="#6e6454" opacity="0.55"/>
<rect x="101.30" y="527.24" width="3.20" height="1.10" fill="#6e6454" opacity="0.55"/>
<rect x="74.50" y="529.97" width="3.20" height="1.10" fill="#6e6454" opacity="0.55"/>
<rect x="101.30" y="529.97" width="3.20" height="1.10" fill="#6e6454" opacity="0.55"/>
<rect x="74.50" y="532.70" width="6.00" height="1.10" fill="#6e6454" opacity="0.55"/>
<rect x="98.50" y="532.70" width="6.00" height="1.10" fill="#6e6454" opacity="0.55"/>
<rect x="74.50" y="535.43" width="3.20" height="1.10" fill="#6e6454" opacity="0.55"/>
<rect x="101.30" y="535.43" width="3.20" height="1.10" fill="#6e6454" opacity="0.55"/>
<rect x="74.50" y="538.16" width="3.20" height="1.10" fill="#6e6454" opacity="0.55"/>
<rect x="101.30" y="538.16" width="3.20" height="1.10" fill="#6e6454" opacity="0.55"/>
<rect x="74.50" y="540.89" width="3.20" height="1.10" fill="#6e6454" opacity="0.55"/>
<rect x="101.30" y="540.89" width="3.20" height="1.10" fill="#6e6454" opacity="0.55"/>
<rect x="74.50" y="543.62" width="6.00" height="1.10" fill="#6e6454" opacity="0.55"/>
<rect x="98.50" y="543.62" width="6.00" height="1.10" fill="#6e6454" opacity="0.55"/>
<rect x="74.50" y="546.35" width="3.20" height="1.10" fill="#6e6454" opacity="0.55"/>
<rect x="101.30" y="546.35" width="3.20" height="1.10" fill="#6e6454" opacity="0.55"/>
<rect x="74.50" y="549.08" width="3.20" height="1.10" fill="#6e6454" opacity="0.55"/>
<rect x="101.30" y="549.08" width="3.20" height="1.10" fill="#6e6454" opacity="0.55"/>
<rect x="74.50" y="551.81" width="3.20" height="1.10" fill="#6e6454" opacity="0.55"/>
<rect x="101.30" y="551.81" width="3.20" height="1.10" fill="#6e6454" opacity="0.55"/>
<rect x="74.50" y="554.54" width="6.00" height="1.10" fill="#6e6454" opacity="0.55"/>
<rect x="98.50" y="554.54" width="6.00" height="1.10" fill="#6e6454" opacity="0.55"/>
<rect x="74.50" y="557.27" width="3.20" height="1.10" fill="#6e6454" opacity="0.55"/>
<rect x="101.30" y="557.27" width="3.20" height="1.10" fill="#6e6454" opacity="0.55"/>
<rect x="74.50" y="560.00" width="3.20" height="1.10" fill="#6e6454" opacity="0.55"/>
<rect x="101.30" y="560.00" width="3.20" height="1.10" fill="#6e6454" opacity="0.55"/>
<rect x="74.50" y="562.73" width="3.20" height="1.10" fill="#6e6454" opacity="0.55"/>
<rect x="101.30" y="562.73" width="3.20" height="1.10" fill="#6e6454" opacity="0.55"/>
<rect x="74.50" y="565.46" width="6.00" height="1.10" fill="#6e6454" opacity="0.55"/>
<rect x="98.50" y="565.46" width="6.00" height="1.10" fill="#6e6454" opacity="0.55"/>
<rect x="74.50" y="568.19" width="3.20" height="1.10" fill="#6e6454" opacity="0.55"/>
<rect x="101.30" y="568.19" width="3.20" height="1.10" fill="#6e6454" opacity="0.55"/>
<rect x="74.50" y="570.92" width="3.20" height="1.10" fill="#6e6454" opacity="0.55"/>
<rect x="101.30" y="570.92" width="3.20" height="1.10" fill="#6e6454" opacity="0.55"/>
<rect x="74.50" y="573.65" width="3.20" height="1.10" fill="#6e6454" opacity="0.55"/>
<rect x="101.30" y="573.65" width="3.20" height="1.10" fill="#6e6454" opacity="0.55"/>
<rect x="74.50" y="576.38" width="6.00" height="1.10" fill="#6e6454" opacity="0.55"/>
<rect x="98.50" y="576.38" width="6.00" height="1.10" fill="#6e6454" opacity="0.55"/>
<rect x="74.50" y="579.11" width="3.20" height="1.10" fill="#6e6454" opacity="0.55"/>
<rect x="101.30" y="579.11" width="3.20" height="1.10" fill="#6e6454" opacity="0.55"/>
<rect x="74.50" y="581.84" width="3.20" height="1.10" fill="#6e6454" opacity="0.55"/>
<rect x="101.30" y="581.84" width="3.20" height="1.10" fill="#6e6454" opacity="0.55"/>
<rect x="74.50" y="584.57" width="3.20" height="1.10" fill="#6e6454" opacity="0.55"/>
<rect x="101.30" y="584.57" width="3.20" height="1.10" fill="#6e6454" opacity="0.55"/>
<rect x="74.50" y="587.30" width="6.00" height="1.10" fill="#6e6454" opacity="0.55"/>
<rect x="98.50" y="587.30" width="6.00" height="1.10" fill="#6e6454" opacity="0.55"/>
<rect x="74.50" y="590.03" width="3.20" height="1.10" fill="#6e6454" opacity="0.55"/>
<rect x="101.30" y="590.03" width="3.20" height="1.10" fill="#6e6454" opacity="0.55"/>
<rect x="74.50" y="592.76" width="3.20" height="1.10" fill="#6e6454" opacity="0.55"/>
<rect x="101.30" y="592.76" width="3.20" height="1.10" fill="#6e6454" opacity="0.55"/>
<rect x="74.50" y="595.49" width="3.20" height="1.10" fill="#6e6454" opacity="0.55"/>
<rect x="101.30" y="595.49" width="3.20" height="1.10" fill="#6e6454" opacity="0.55"/>
<rect x="74.50" y="598.22" width="6.00" height="1.10" fill="#6e6454" opacity="0.55"/>
<rect x="98.50" y="598.22" width="6.00" height="1.10" fill="#6e6454" opacity="0.55"/>
<rect x="74.50" y="600.95" width="3.20" height="1.10" fill="#6e6454" opacity="0.55"/>
<rect x="101.30" y="600.95" width="3.20" height="1.10" fill="#6e6454" opacity="0.55"/>
<rect x="74.50" y="603.68" width="3.20" height="1.10" fill="#6e6454" opacity="0.55"/>
<rect x="101.30" y="603.68" width="3.20" height="1.10" fill="#6e6454" opacity="0.55"/>
<rect x="74.50" y="606.41" width="3.20" height="1.10" fill="#6e6454" opacity="0.55"/>
<rect x="101.30" y="606.41" width="3.20" height="1.10" fill="#6e6454" opacity="0.55"/>
<rect x="74.50" y="609.14" width="6.00" height="1.10" fill="#6e6454" opacity="0.55"/>
<rect x="98.50" y="609.14" width="6.00" height="1.10" fill="#6e6454" opacity="0.55"/>
<rect x="74.50" y="611.87" width="3.20" height="1.10" fill="#6e6454" opacity="0.55"/>
<rect x="101.30" y="611.87" width="3.20" height="1.10" fill="#6e6454" opacity="0.55"/>
<rect x="74.50" y="614.60" width="3.20" height="1.10" fill="#6e6454" opacity="0.55"/>
<rect x="101.30" y="614.60" width="3.20" height="1.10" fill="#6e6454" opacity="0.55"/>
<rect x="74.50" y="617.33" width="3.20" height="1.10" fill="#6e6454" opacity="0.55"/>
<rect x="101.30" y="617.33" width="3.20" height="1.10" fill="#6e6454" opacity="0.55"/>
<rect x="74.50" y="620.06" width="6.00" height="1.10" fill="#6e6454" opacity="0.55"/>
<rect x="98.50" y="620.06" width="6.00" height="1.10" fill="#6e6454" opacity="0.55"/>
<rect x="74.50" y="622.79" width="3.20" height="1.10" fill="#6e6454" opacity="0.55"/>
<rect x="101.30" y="622.79" width="3.20" height="1.10" fill="#6e6454" opacity="0.55"/>
<rect x="74.50" y="625.52" width="3.20" height="1.10" fill="#6e6454" opacity="0.55"/>
<rect x="101.30" y="625.52" width="3.20" height="1.10" fill="#6e6454" opacity="0.55"/>
<rect x="74.50" y="628.25" width="3.20" height="1.10" fill="#6e6454" opacity="0.55"/>
<rect x="101.30" y="628.25" width="3.20" height="1.10" fill="#6e6454" opacity="0.55"/>
<rect x="74.50" y="630.98" width="6.00" height="1.10" fill="#6e6454" opacity="0.55"/>
<rect x="98.50" y="630.98" width="6.00" height="1.10" fill="#6e6454" opacity="0.55"/>
<rect x="74.50" y="633.71" width="3.20" height="1.10" fill="#6e6454" opacity="0.55"/>
<rect x="101.30" y="633.71" width="3.20" height="1.10" fill="#6e6454" opacity="0.55"/>
<rect x="74.50" y="636.44" width="3.20" height="1.10" fill="#6e6454" opacity="0.55"/>
<rect x="101.30" y="636.44" width="3.20" height="1.10" fill="#6e6454" opacity="0.55"/>
<rect x="74.50" y="639.17" width="3.20" height="1.10" fill="#6e6454" opacity="0.55"/>
<rect x="101.30" y="639.17" width="3.20" height="1.10" fill="#6e6454" opacity="0.55"/>
<rect x="74.50" y="641.90" width="6.00" height="1.10" fill="#6e6454" opacity="0.55"/>
<rect x="98.50" y="641.90" width="6.00" height="1.10" fill="#6e6454" opacity="0.55"/>
<rect x="74.50" y="644.63" width="3.20" height="1.10" fill="#6e6454" opacity="0.55"/>
<rect x="101.30" y="644.63" width="3.20" height="1.10" fill="#6e6454" opacity="0.55"/>
<rect x="74.50" y="647.36" width="3.20" height="1.10" fill="#6e6454" opacity="0.55"/>
<rect x="101.30" y="647.36" width="3.20" height="1.10" fill="#6e6454" opacity="0.55"/>
<rect x="74.50" y="650.09" width="3.20" height="1.10" fill="#6e6454" opacity="0.55"/>
<rect x="101.30" y="650.09" width="3.20" height="1.10" fill="#6e6454" opacity="0.55"/>
<rect x="74.50" y="652.82" width="6.00" height="1.10" fill="#6e6454" opacity="0.55"/>
<rect x="98.50" y="652.82" width="6.00" height="1.10" fill="#6e6454" opacity="0.55"/>
<rect x="74.50" y="655.55" width="3.20" height="1.10" fill="#6e6454" opacity="0.55"/>
<rect x="101.30" y="655.55" width="3.20" height="1.10" fill="#6e6454" opacity="0.55"/>
<rect x="74.50" y="658.28" width="3.20" height="1.10" fill="#6e6454" opacity="0.55"/>
<rect x="101.30" y="658.28" width="3.20" height="1.10" fill="#6e6454" opacity="0.55"/>
<rect x="74.50" y="661.01" width="3.20" height="1.10" fill="#6e6454" opacity="0.55"/>
<rect x="101.30" y="661.01" width="3.20" height="1.10" fill="#6e6454" opacity="0.55"/>
<rect x="74.50" y="663.74" width="6.00" height="1.10" fill="#6e6454" opacity="0.55"/>
<rect x="98.50" y="663.74" width="6.00" height="1.10" fill="#6e6454" opacity="0.55"/>
<rect x="74.50" y="666.47" width="3.20" height="1.10" fill="#6e6454" opacity="0.55"/>
<rect x="101.30" y="666.47" width="3.20" height="1.10" fill="#6e6454" opacity="0.55"/>
<rect x="74.50" y="669.20" width="3.20" height="1.10" fill="#6e6454" opacity="0.55"/>
<rect x="101.30" y="669.20" width="3.20" height="1.10" fill="#6e6454" opacity="0.55"/>
<rect x="74.50" y="671.93" width="3.20" height="1.10" fill="#6e6454" opacity="0.55"/>
<rect x="101.30" y="671.93" width="3.20" height="1.10" fill="#6e6454" opacity="0.55"/>
<rect x="74.50" y="674.66" width="6.00" height="1.10" fill="#6e6454" opacity="0.55"/>
<rect x="98.50" y="674.66" width="6.00" height="1.10" fill="#6e6454" opacity="0.55"/>
<rect x="74.50" y="677.39" width="3.20" height="1.10" fill="#6e6454" opacity="0.55"/>
<rect x="101.30" y="677.39" width="3.20" height="1.10" fill="#6e6454" opacity="0.55"/>
<rect x="74.50" y="680.12" width="3.20" height="1.10" fill="#6e6454" opacity="0.55"/>
<rect x="101.30" y="680.12" width="3.20" height="1.10" fill="#6e6454" opacity="0.55"/>
<rect x="74.50" y="682.85" width="3.20" height="1.10" fill="#6e6454" opacity="0.55"/>
<rect x="101.30" y="682.85" width="3.20" height="1.10" fill="#6e6454" opacity="0.55"/>
<rect x="74.50" y="685.58" width="6.00" height="1.10" fill="#6e6454" opacity="0.55"/>
<rect x="98.50" y="685.58" width="6.00" height="1.10" fill="#6e6454" opacity="0.55"/>
<rect x="74.50" y="688.31" width="3.20" height="1.10" fill="#6e6454" opacity="0.55"/>
<rect x="101.30" y="688.31" width="3.20" height="1.10" fill="#6e6454" opacity="0.55"/>
<rect x="74.50" y="691.04" width="3.20" height="1.10" fill="#6e6454" opacity="0.55"/>
<rect x="101.30" y="691.04" width="3.20" height="1.10" fill="#6e6454" opacity="0.55"/>
<rect x="74.50" y="693.77" width="3.20" height="1.10" fill="#6e6454" opacity="0.55"/>
<rect x="101.30" y="693.77" width="3.20" height="1.10" fill="#6e6454" opacity="0.55"/>
<rect x="74.50" y="696.50" width="6.00" height="1.10" fill="#6e6454" opacity="0.55"/>
<rect x="98.50" y="696.50" width="6.00" height="1.10" fill="#6e6454" opacity="0.55"/>
<rect x="74.50" y="699.23" width="3.20" height="1.10" fill="#6e6454" opacity="0.55"/>
<rect x="101.30" y="699.23" width="3.20" height="1.10" fill="#6e6454" opacity="0.55"/>
<rect x="74.50" y="701.96" width="3.20" height="1.10" fill="#6e6454" opacity="0.55"/>
<rect x="101.30" y="701.96" width="3.20" height="1.10" fill="#6e6454" opacity="0.55"/>
<rect x="74.50" y="704.69" width="3.20" height="1.10" fill="#6e6454" opacity="0.55"/>
<rect x="101.30" y="704.69" width="3.20" height="1.10" fill="#6e6454" opacity="0.55"/>
<rect x="74.50" y="707.42" width="6.00" height="1.10" fill="#6e6454" opacity="0.55"/>
<rect x="98.50" y="707.42" width="6.00" height="1.10" fill="#6e6454" opacity="0.55"/>
<rect x="74.50" y="710.15" width="3.20" height="1.10" fill="#6e6454" opacity="0.55"/>
<rect x="101.30" y="710.15" width="3.20" height="1.10" fill="#6e6454" opacity="0.55"/>
<rect x="74.50" y="712.88" width="3.20" height="1.10" fill="#6e6454" opacity="0.55"/>
<rect x="101.30" y="712.88" width="3.20" height="1.10" fill="#6e6454" opacity="0.55"/>
<rect x="74.50" y="715.61" width="3.20" height="1.10" fill="#6e6454" opacity="0.55"/>
<rect x="101.30" y="715.61" width="3.20" height="1.10" fill="#6e6454" opacity="0.55"/>
<rect x="74.50" y="718.34" width="6.00" height="1.10" fill="#6e6454" opacity="0.55"/>
<rect x="98.50" y="718.34" width="6.00" height="1.10" fill="#6e6454" opacity="0.55"/>
<rect x="74.50" y="721.07" width="3.20" height="1.10" fill="#6e6454" opacity="0.55"/>
<rect x="101.30" y="721.07" width="3.20" height="1.10" fill="#6e6454" opacity="0.55"/>
<rect x="74.50" y="723.80" width="3.20" height="1.10" fill="#6e6454" opacity="0.55"/>
<rect x="101.30" y="723.80" width="3.20" height="1.10" fill="#6e6454" opacity="0.55"/>
<rect x="74.50" y="726.53" width="3.20" height="1.10" fill="#6e6454" opacity="0.55"/>
<rect x="101.30" y="726.53" width="3.20" height="1.10" fill="#6e6454" opacity="0.55"/>
<rect x="74.50" y="729.26" width="6.00" height="1.10" fill="#6e6454" opacity="0.55"/>
<rect x="98.50" y="729.26" width="6.00" height="1.10" fill="#6e6454" opacity="0.55"/>
<rect x="74.50" y="731.99" width="3.20" height="1.10" fill="#6e6454" opacity="0.55"/>
<rect x="101.30" y="731.99" width="3.20" height="1.10" fill="#6e6454" opacity="0.55"/>
<rect x="74.50" y="734.72" width="3.20" height="1.10" fill="#6e6454" opacity="0.55"/>
<rect x="101.30" y="734.72" width="3.20" height="1.10" fill="#6e6454" opacity="0.55"/>
<rect x="74.50" y="737.45" width="3.20" height="1.10" fill="#6e6454" opacity="0.55"/>
<rect x="101.30" y="737.45" width="3.20" height="1.10" fill="#6e6454" opacity="0.55"/>
<rect x="74.50" y="740.18" width="6.00" height="1.10" fill="#6e6454" opacity="0.55"/>
<rect x="98.50" y="740.18" width="6.00" height="1.10" fill="#6e6454" opacity="0.55"/>
<rect x="74.50" y="742.91" width="3.20" height="1.10" fill="#6e6454" opacity="0.55"/>
<rect x="101.30" y="742.91" width="3.20" height="1.10" fill="#6e6454" opacity="0.55"/>
<rect x="74.50" y="745.64" width="3.20" height="1.10" fill="#6e6454" opacity="0.55"/>
<rect x="101.30" y="745.64" width="3.20" height="1.10" fill="#6e6454" opacity="0.55"/>
<rect x="224.40" y="420.00" width="27.60" height="327.50" fill="url(#rul)"/>
<rect x="224.40" y="420.00" width="27.60" height="327.50" fill="url(#rul2)"/>
<rect x="233.99" y="428.00" width="4.00" height="3.00" fill="#2a2620" opacity="0.75"/>
<rect x="234.74" y="438.90" width="2.50" height="3.00" fill="#2a2620" opacity="0.75"/>
<rect x="233.99" y="449.80" width="4.00" height="3.00" fill="#2a2620" opacity="0.75"/>
<rect x="234.74" y="460.70" width="2.50" height="3.00" fill="#2a2620" opacity="0.75"/>
<rect x="233.99" y="471.60" width="4.00" height="3.00" fill="#2a2620" opacity="0.75"/>
<rect x="234.74" y="482.50" width="2.50" height="3.00" fill="#2a2620" opacity="0.75"/>
<rect x="233.99" y="493.40" width="4.00" height="3.00" fill="#2a2620" opacity="0.75"/>
<rect x="234.74" y="504.30" width="2.50" height="3.00" fill="#2a2620" opacity="0.75"/>
<rect x="233.99" y="515.20" width="4.00" height="3.00" fill="#2a2620" opacity="0.75"/>
<rect x="234.74" y="526.10" width="2.50" height="3.00" fill="#2a2620" opacity="0.75"/>
<rect x="233.99" y="537.00" width="4.00" height="3.00" fill="#2a2620" opacity="0.75"/>
<rect x="234.74" y="547.90" width="2.50" height="3.00" fill="#2a2620" opacity="0.75"/>
<rect x="233.99" y="558.80" width="4.00" height="3.00" fill="#2a2620" opacity="0.75"/>
<rect x="234.74" y="569.70" width="2.50" height="3.00" fill="#2a2620" opacity="0.75"/>
<rect x="233.99" y="580.60" width="4.00" height="3.00" fill="#2a2620" opacity="0.75"/>
<rect x="234.74" y="591.50" width="2.50" height="3.00" fill="#2a2620" opacity="0.75"/>
<rect x="233.99" y="602.40" width="4.00" height="3.00" fill="#2a2620" opacity="0.75"/>
<rect x="234.74" y="613.30" width="2.50" height="3.00" fill="#2a2620" opacity="0.75"/>
<rect x="233.99" y="624.20" width="4.00" height="3.00" fill="#2a2620" opacity="0.75"/>
<rect x="234.74" y="635.10" width="2.50" height="3.00" fill="#2a2620" opacity="0.75"/>
<rect x="233.99" y="646.00" width="4.00" height="3.00" fill="#2a2620" opacity="0.75"/>
<rect x="234.74" y="656.90" width="2.50" height="3.00" fill="#2a2620" opacity="0.75"/>
<rect x="233.99" y="667.80" width="4.00" height="3.00" fill="#2a2620" opacity="0.75"/>
<rect x="234.74" y="678.70" width="2.50" height="3.00" fill="#2a2620" opacity="0.75"/>
<rect x="233.99" y="689.60" width="4.00" height="3.00" fill="#2a2620" opacity="0.75"/>
<rect x="234.74" y="700.50" width="2.50" height="3.00" fill="#2a2620" opacity="0.75"/>
<rect x="233.99" y="711.40" width="4.00" height="3.00" fill="#2a2620" opacity="0.75"/>
<rect x="234.74" y="722.30" width="2.50" height="3.00" fill="#2a2620" opacity="0.75"/>
<rect x="233.99" y="733.20" width="4.00" height="3.00" fill="#2a2620" opacity="0.75"/>
<rect x="224.40" y="423.00" width="6.00" height="1.10" fill="#6e6454" opacity="0.55"/>
<rect x="246.00" y="423.00" width="6.00" height="1.10" fill="#6e6454" opacity="0.55"/>
<rect x="224.40" y="425.73" width="3.20" height="1.10" fill="#6e6454" opacity="0.55"/>
<rect x="248.80" y="425.73" width="3.20" height="1.10" fill="#6e6454" opacity="0.55"/>
<rect x="224.40" y="428.46" width="3.20" height="1.10" fill="#6e6454" opacity="0.55"/>
<rect x="248.80" y="428.46" width="3.20" height="1.10" fill="#6e6454" opacity="0.55"/>
<rect x="224.40" y="431.19" width="3.20" height="1.10" fill="#6e6454" opacity="0.55"/>
<rect x="248.80" y="431.19" width="3.20" height="1.10" fill="#6e6454" opacity="0.55"/>
<rect x="224.40" y="433.92" width="6.00" height="1.10" fill="#6e6454" opacity="0.55"/>
<rect x="246.00" y="433.92" width="6.00" height="1.10" fill="#6e6454" opacity="0.55"/>
<rect x="224.40" y="436.65" width="3.20" height="1.10" fill="#6e6454" opacity="0.55"/>
<rect x="248.80" y="436.65" width="3.20" height="1.10" fill="#6e6454" opacity="0.55"/>
<rect x="224.40" y="439.38" width="3.20" height="1.10" fill="#6e6454" opacity="0.55"/>
<rect x="248.80" y="439.38" width="3.20" height="1.10" fill="#6e6454" opacity="0.55"/>
<rect x="224.40" y="442.11" width="3.20" height="1.10" fill="#6e6454" opacity="0.55"/>
<rect x="248.80" y="442.11" width="3.20" height="1.10" fill="#6e6454" opacity="0.55"/>
<rect x="224.40" y="444.84" width="6.00" height="1.10" fill="#6e6454" opacity="0.55"/>
<rect x="246.00" y="444.84" width="6.00" height="1.10" fill="#6e6454" opacity="0.55"/>
<rect x="224.40" y="447.57" width="3.20" height="1.10" fill="#6e6454" opacity="0.55"/>
<rect x="248.80" y="447.57" width="3.20" height="1.10" fill="#6e6454" opacity="0.55"/>
<rect x="224.40" y="450.30" width="3.20" height="1.10" fill="#6e6454" opacity="0.55"/>
<rect x="248.80" y="450.30" width="3.20" height="1.10" fill="#6e6454" opacity="0.55"/>
<rect x="224.40" y="453.03" width="3.20" height="1.10" fill="#6e6454" opacity="0.55"/>
<rect x="248.80" y="453.03" width="3.20" height="1.10" fill="#6e6454" opacity="0.55"/>
<rect x="224.40" y="455.76" width="6.00" height="1.10" fill="#6e6454" opacity="0.55"/>
<rect x="246.00" y="455.76" width="6.00" height="1.10" fill="#6e6454" opacity="0.55"/>
<rect x="224.40" y="458.49" width="3.20" height="1.10" fill="#6e6454" opacity="0.55"/>
<rect x="248.80" y="458.49" width="3.20" height="1.10" fill="#6e6454" opacity="0.55"/>
<rect x="224.40" y="461.22" width="3.20" height="1.10" fill="#6e6454" opacity="0.55"/>
<rect x="248.80" y="461.22" width="3.20" height="1.10" fill="#6e6454" opacity="0.55"/>
<rect x="224.40" y="463.95" width="3.20" height="1.10" fill="#6e6454" opacity="0.55"/>
<rect x="248.80" y="463.95" width="3.20" height="1.10" fill="#6e6454" opacity="0.55"/>
<rect x="224.40" y="466.68" width="6.00" height="1.10" fill="#6e6454" opacity="0.55"/>
<rect x="246.00" y="466.68" width="6.00" height="1.10" fill="#6e6454" opacity="0.55"/>
<rect x="224.40" y="469.41" width="3.20" height="1.10" fill="#6e6454" opacity="0.55"/>
<rect x="248.80" y="469.41" width="3.20" height="1.10" fill="#6e6454" opacity="0.55"/>
<rect x="224.40" y="472.14" width="3.20" height="1.10" fill="#6e6454" opacity="0.55"/>
<rect x="248.80" y="472.14" width="3.20" height="1.10" fill="#6e6454" opacity="0.55"/>
<rect x="224.40" y="474.87" width="3.20" height="1.10" fill="#6e6454" opacity="0.55"/>
<rect x="248.80" y="474.87" width="3.20" height="1.10" fill="#6e6454" opacity="0.55"/>
<rect x="224.40" y="477.60" width="6.00" height="1.10" fill="#6e6454" opacity="0.55"/>
<rect x="246.00" y="477.60" width="6.00" height="1.10" fill="#6e6454" opacity="0.55"/>
<rect x="224.40" y="480.33" width="3.20" height="1.10" fill="#6e6454" opacity="0.55"/>
<rect x="248.80" y="480.33" width="3.20" height="1.10" fill="#6e6454" opacity="0.55"/>
<rect x="224.40" y="483.06" width="3.20" height="1.10" fill="#6e6454" opacity="0.55"/>
<rect x="248.80" y="483.06" width="3.20" height="1.10" fill="#6e6454" opacity="0.55"/>
<rect x="224.40" y="485.79" width="3.20" height="1.10" fill="#6e6454" opacity="0.55"/>
<rect x="248.80" y="485.79" width="3.20" height="1.10" fill="#6e6454" opacity="0.55"/>
<rect x="224.40" y="488.52" width="6.00" height="1.10" fill="#6e6454" opacity="0.55"/>
<rect x="246.00" y="488.52" width="6.00" height="1.10" fill="#6e6454" opacity="0.55"/>
<rect x="224.40" y="491.25" width="3.20" height="1.10" fill="#6e6454" opacity="0.55"/>
<rect x="248.80" y="491.25" width="3.20" height="1.10" fill="#6e6454" opacity="0.55"/>
<rect x="224.40" y="493.98" width="3.20" height="1.10" fill="#6e6454" opacity="0.55"/>
<rect x="248.80" y="493.98" width="3.20" height="1.10" fill="#6e6454" opacity="0.55"/>
<rect x="224.40" y="496.71" width="3.20" height="1.10" fill="#6e6454" opacity="0.55"/>
<rect x="248.80" y="496.71" width="3.20" height="1.10" fill="#6e6454" opacity="0.55"/>
<rect x="224.40" y="499.44" width="6.00" height="1.10" fill="#6e6454" opacity="0.55"/>
<rect x="246.00" y="499.44" width="6.00" height="1.10" fill="#6e6454" opacity="0.55"/>
<rect x="224.40" y="502.17" width="3.20" height="1.10" fill="#6e6454" opacity="0.55"/>
<rect x="248.80" y="502.17" width="3.20" height="1.10" fill="#6e6454" opacity="0.55"/>
<rect x="224.40" y="504.90" width="3.20" height="1.10" fill="#6e6454" opacity="0.55"/>
<rect x="248.80" y="504.90" width="3.20" height="1.10" fill="#6e6454" opacity="0.55"/>
<rect x="224.40" y="507.63" width="3.20" height="1.10" fill="#6e6454" opacity="0.55"/>
<rect x="248.80" y="507.63" width="3.20" height="1.10" fill="#6e6454" opacity="0.55"/>
<rect x="224.40" y="510.36" width="6.00" height="1.10" fill="#6e6454" opacity="0.55"/>
<rect x="246.00" y="510.36" width="6.00" height="1.10" fill="#6e6454" opacity="0.55"/>
<rect x="224.40" y="513.09" width="3.20" height="1.10" fill="#6e6454" opacity="0.55"/>
<rect x="248.80" y="513.09" width="3.20" height="1.10" fill="#6e6454" opacity="0.55"/>
<rect x="224.40" y="515.82" width="3.20" height="1.10" fill="#6e6454" opacity="0.55"/>
<rect x="248.80" y="515.82" width="3.20" height="1.10" fill="#6e6454" opacity="0.55"/>
<rect x="224.40" y="518.55" width="3.20" height="1.10" fill="#6e6454" opacity="0.55"/>
<rect x="248.80" y="518.55" width="3.20" height="1.10" fill="#6e6454" opacity="0.55"/>
<rect x="224.40" y="521.28" width="6.00" height="1.10" fill="#6e6454" opacity="0.55"/>
<rect x="246.00" y="521.28" width="6.00" height="1.10" fill="#6e6454" opacity="0.55"/>
<rect x="224.40" y="524.01" width="3.20" height="1.10" fill="#6e6454" opacity="0.55"/>
<rect x="248.80" y="524.01" width="3.20" height="1.10" fill="#6e6454" opacity="0.55"/>
<rect x="224.40" y="526.74" width="3.20" height="1.10" fill="#6e6454" opacity="0.55"/>
<rect x="248.80" y="526.74" width="3.20" height="1.10" fill="#6e6454" opacity="0.55"/>
<rect x="224.40" y="529.47" width="3.20" height="1.10" fill="#6e6454" opacity="0.55"/>
<rect x="248.80" y="529.47" width="3.20" height="1.10" fill="#6e6454" opacity="0.55"/>
<rect x="224.40" y="532.20" width="6.00" height="1.10" fill="#6e6454" opacity="0.55"/>
<rect x="246.00" y="532.20" width="6.00" height="1.10" fill="#6e6454" opacity="0.55"/>
<rect x="224.40" y="534.93" width="3.20" height="1.10" fill="#6e6454" opacity="0.55"/>
<rect x="248.80" y="534.93" width="3.20" height="1.10" fill="#6e6454" opacity="0.55"/>
<rect x="224.40" y="537.66" width="3.20" height="1.10" fill="#6e6454" opacity="0.55"/>
<rect x="248.80" y="537.66" width="3.20" height="1.10" fill="#6e6454" opacity="0.55"/>
<rect x="224.40" y="540.39" width="3.20" height="1.10" fill="#6e6454" opacity="0.55"/>
<rect x="248.80" y="540.39" width="3.20" height="1.10" fill="#6e6454" opacity="0.55"/>
<rect x="224.40" y="543.12" width="6.00" height="1.10" fill="#6e6454" opacity="0.55"/>
<rect x="246.00" y="543.12" width="6.00" height="1.10" fill="#6e6454" opacity="0.55"/>
<rect x="224.40" y="545.85" width="3.20" height="1.10" fill="#6e6454" opacity="0.55"/>
<rect x="248.80" y="545.85" width="3.20" height="1.10" fill="#6e6454" opacity="0.55"/>
<rect x="224.40" y="548.58" width="3.20" height="1.10" fill="#6e6454" opacity="0.55"/>
<rect x="248.80" y="548.58" width="3.20" height="1.10" fill="#6e6454" opacity="0.55"/>
<rect x="224.40" y="551.31" width="3.20" height="1.10" fill="#6e6454" opacity="0.55"/>
<rect x="248.80" y="551.31" width="3.20" height="1.10" fill="#6e6454" opacity="0.55"/>
<rect x="224.40" y="554.04" width="6.00" height="1.10" fill="#6e6454" opacity="0.55"/>
<rect x="246.00" y="554.04" width="6.00" height="1.10" fill="#6e6454" opacity="0.55"/>
<rect x="224.40" y="556.77" width="3.20" height="1.10" fill="#6e6454" opacity="0.55"/>
<rect x="248.80" y="556.77" width="3.20" height="1.10" fill="#6e6454" opacity="0.55"/>
<rect x="224.40" y="559.50" width="3.20" height="1.10" fill="#6e6454" opacity="0.55"/>
<rect x="248.80" y="559.50" width="3.20" height="1.10" fill="#6e6454" opacity="0.55"/>
<rect x="224.40" y="562.23" width="3.20" height="1.10" fill="#6e6454" opacity="0.55"/>
<rect x="248.80" y="562.23" width="3.20" height="1.10" fill="#6e6454" opacity="0.55"/>
<rect x="224.40" y="564.96" width="6.00" height="1.10" fill="#6e6454" opacity="0.55"/>
<rect x="246.00" y="564.96" width="6.00" height="1.10" fill="#6e6454" opacity="0.55"/>
<rect x="224.40" y="567.69" width="3.20" height="1.10" fill="#6e6454" opacity="0.55"/>
<rect x="248.80" y="567.69" width="3.20" height="1.10" fill="#6e6454" opacity="0.55"/>
<rect x="224.40" y="570.42" width="3.20" height="1.10" fill="#6e6454" opacity="0.55"/>
<rect x="248.80" y="570.42" width="3.20" height="1.10" fill="#6e6454" opacity="0.55"/>
<rect x="224.40" y="573.15" width="3.20" height="1.10" fill="#6e6454" opacity="0.55"/>
<rect x="248.80" y="573.15" width="3.20" height="1.10" fill="#6e6454" opacity="0.55"/>
<rect x="224.40" y="575.88" width="6.00" height="1.10" fill="#6e6454" opacity="0.55"/>
<rect x="246.00" y="575.88" width="6.00" height="1.10" fill="#6e6454" opacity="0.55"/>
<rect x="224.40" y="578.61" width="3.20" height="1.10" fill="#6e6454" opacity="0.55"/>
<rect x="248.80" y="578.61" width="3.20" height="1.10" fill="#6e6454" opacity="0.55"/>
<rect x="224.40" y="581.34" width="3.20" height="1.10" fill="#6e6454" opacity="0.55"/>
<rect x="248.80" y="581.34" width="3.20" height="1.10" fill="#6e6454" opacity="0.55"/>
<rect x="224.40" y="584.07" width="3.20" height="1.10" fill="#6e6454" opacity="0.55"/>
<rect x="248.80" y="584.07" width="3.20" height="1.10" fill="#6e6454" opacity="0.55"/>
<rect x="224.40" y="586.80" width="6.00" height="1.10" fill="#6e6454" opacity="0.55"/>
<rect x="246.00" y="586.80" width="6.00" height="1.10" fill="#6e6454" opacity="0.55"/>
<rect x="224.40" y="589.53" width="3.20" height="1.10" fill="#6e6454" opacity="0.55"/>
<rect x="248.80" y="589.53" width="3.20" height="1.10" fill="#6e6454" opacity="0.55"/>
<rect x="224.40" y="592.26" width="3.20" height="1.10" fill="#6e6454" opacity="0.55"/>
<rect x="248.80" y="592.26" width="3.20" height="1.10" fill="#6e6454" opacity="0.55"/>
<rect x="224.40" y="594.99" width="3.20" height="1.10" fill="#6e6454" opacity="0.55"/>
<rect x="248.80" y="594.99" width="3.20" height="1.10" fill="#6e6454" opacity="0.55"/>
<rect x="224.40" y="597.72" width="6.00" height="1.10" fill="#6e6454" opacity="0.55"/>
<rect x="246.00" y="597.72" width="6.00" height="1.10" fill="#6e6454" opacity="0.55"/>
<rect x="224.40" y="600.45" width="3.20" height="1.10" fill="#6e6454" opacity="0.55"/>
<rect x="248.80" y="600.45" width="3.20" height="1.10" fill="#6e6454" opacity="0.55"/>
<rect x="224.40" y="603.18" width="3.20" height="1.10" fill="#6e6454" opacity="0.55"/>
<rect x="248.80" y="603.18" width="3.20" height="1.10" fill="#6e6454" opacity="0.55"/>
<rect x="224.40" y="605.91" width="3.20" height="1.10" fill="#6e6454" opacity="0.55"/>
<rect x="248.80" y="605.91" width="3.20" height="1.10" fill="#6e6454" opacity="0.55"/>
<rect x="224.40" y="608.64" width="6.00" height="1.10" fill="#6e6454" opacity="0.55"/>
<rect x="246.00" y="608.64" width="6.00" height="1.10" fill="#6e6454" opacity="0.55"/>
<rect x="224.40" y="611.37" width="3.20" height="1.10" fill="#6e6454" opacity="0.55"/>
<rect x="248.80" y="611.37" width="3.20" height="1.10" fill="#6e6454" opacity="0.55"/>
<rect x="224.40" y="614.10" width="3.20" height="1.10" fill="#6e6454" opacity="0.55"/>
<rect x="248.80" y="614.10" width="3.20" height="1.10" fill="#6e6454" opacity="0.55"/>
<rect x="224.40" y="616.83" width="3.20" height="1.10" fill="#6e6454" opacity="0.55"/>
<rect x="248.80" y="616.83" width="3.20" height="1.10" fill="#6e6454" opacity="0.55"/>
<rect x="224.40" y="619.56" width="6.00" height="1.10" fill="#6e6454" opacity="0.55"/>
<rect x="246.00" y="619.56" width="6.00" height="1.10" fill="#6e6454" opacity="0.55"/>
<rect x="224.40" y="622.29" width="3.20" height="1.10" fill="#6e6454" opacity="0.55"/>
<rect x="248.80" y="622.29" width="3.20" height="1.10" fill="#6e6454" opacity="0.55"/>
<rect x="224.40" y="625.02" width="3.20" height="1.10" fill="#6e6454" opacity="0.55"/>
<rect x="248.80" y="625.02" width="3.20" height="1.10" fill="#6e6454" opacity="0.55"/>
<rect x="224.40" y="627.75" width="3.20" height="1.10" fill="#6e6454" opacity="0.55"/>
<rect x="248.80" y="627.75" width="3.20" height="1.10" fill="#6e6454" opacity="0.55"/>
<rect x="224.40" y="630.48" width="6.00" height="1.10" fill="#6e6454" opacity="0.55"/>
<rect x="246.00" y="630.48" width="6.00" height="1.10" fill="#6e6454" opacity="0.55"/>
<rect x="224.40" y="633.21" width="3.20" height="1.10" fill="#6e6454" opacity="0.55"/>
<rect x="248.80" y="633.21" width="3.20" height="1.10" fill="#6e6454" opacity="0.55"/>
<rect x="224.40" y="635.94" width="3.20" height="1.10" fill="#6e6454" opacity="0.55"/>
<rect x="248.80" y="635.94" width="3.20" height="1.10" fill="#6e6454" opacity="0.55"/>
<rect x="224.40" y="638.67" width="3.20" height="1.10" fill="#6e6454" opacity="0.55"/>
<rect x="248.80" y="638.67" width="3.20" height="1.10" fill="#6e6454" opacity="0.55"/>
<rect x="224.40" y="641.40" width="6.00" height="1.10" fill="#6e6454" opacity="0.55"/>
<rect x="246.00" y="641.40" width="6.00" height="1.10" fill="#6e6454" opacity="0.55"/>
<rect x="224.40" y="644.13" width="3.20" height="1.10" fill="#6e6454" opacity="0.55"/>
<rect x="248.80" y="644.13" width="3.20" height="1.10" fill="#6e6454" opacity="0.55"/>
<rect x="224.40" y="646.86" width="3.20" height="1.10" fill="#6e6454" opacity="0.55"/>
<rect x="248.80" y="646.86" width="3.20" height="1.10" fill="#6e6454" opacity="0.55"/>
<rect x="224.40" y="649.59" width="3.20" height="1.10" fill="#6e6454" opacity="0.55"/>
<rect x="248.80" y="649.59" width="3.20" height="1.10" fill="#6e6454" opacity="0.55"/>
<rect x="224.40" y="652.32" width="6.00" height="1.10" fill="#6e6454" opacity="0.55"/>
<rect x="246.00" y="652.32" width="6.00" height="1.10" fill="#6e6454" opacity="0.55"/>
<rect x="224.40" y="655.05" width="3.20" height="1.10" fill="#6e6454" opacity="0.55"/>
<rect x="248.80" y="655.05" width="3.20" height="1.10" fill="#6e6454" opacity="0.55"/>
<rect x="224.40" y="657.78" width="3.20" height="1.10" fill="#6e6454" opacity="0.55"/>
<rect x="248.80" y="657.78" width="3.20" height="1.10" fill="#6e6454" opacity="0.55"/>
<rect x="224.40" y="660.51" width="3.20" height="1.10" fill="#6e6454" opacity="0.55"/>
<rect x="248.80" y="660.51" width="3.20" height="1.10" fill="#6e6454" opacity="0.55"/>
<rect x="224.40" y="663.24" width="6.00" height="1.10" fill="#6e6454" opacity="0.55"/>
<rect x="246.00" y="663.24" width="6.00" height="1.10" fill="#6e6454" opacity="0.55"/>
<rect x="224.40" y="665.97" width="3.20" height="1.10" fill="#6e6454" opacity="0.55"/>
<rect x="248.80" y="665.97" width="3.20" height="1.10" fill="#6e6454" opacity="0.55"/>
<rect x="224.40" y="668.70" width="3.20" height="1.10" fill="#6e6454" opacity="0.55"/>
<rect x="248.80" y="668.70" width="3.20" height="1.10" fill="#6e6454" opacity="0.55"/>
<rect x="224.40" y="671.43" width="3.20" height="1.10" fill="#6e6454" opacity="0.55"/>
<rect x="248.80" y="671.43" width="3.20" height="1.10" fill="#6e6454" opacity="0.55"/>
<rect x="224.40" y="674.16" width="6.00" height="1.10" fill="#6e6454" opacity="0.55"/>
<rect x="246.00" y="674.16" width="6.00" height="1.10" fill="#6e6454" opacity="0.55"/>
<rect x="224.40" y="676.89" width="3.20" height="1.10" fill="#6e6454" opacity="0.55"/>
<rect x="248.80" y="676.89" width="3.20" height="1.10" fill="#6e6454" opacity="0.55"/>
<rect x="224.40" y="679.62" width="3.20" height="1.10" fill="#6e6454" opacity="0.55"/>
<rect x="248.80" y="679.62" width="3.20" height="1.10" fill="#6e6454" opacity="0.55"/>
<rect x="224.40" y="682.35" width="3.20" height="1.10" fill="#6e6454" opacity="0.55"/>
<rect x="248.80" y="682.35" width="3.20" height="1.10" fill="#6e6454" opacity="0.55"/>
<rect x="224.40" y="685.08" width="6.00" height="1.10" fill="#6e6454" opacity="0.55"/>
<rect x="246.00" y="685.08" width="6.00" height="1.10" fill="#6e6454" opacity="0.55"/>
<rect x="224.40" y="687.81" width="3.20" height="1.10" fill="#6e6454" opacity="0.55"/>
<rect x="248.80" y="687.81" width="3.20" height="1.10" fill="#6e6454" opacity="0.55"/>
<rect x="224.40" y="690.54" width="3.20" height="1.10" fill="#6e6454" opacity="0.55"/>
<rect x="248.80" y="690.54" width="3.20" height="1.10" fill="#6e6454" opacity="0.55"/>
<rect x="224.40" y="693.27" width="3.20" height="1.10" fill="#6e6454" opacity="0.55"/>
<rect x="248.80" y="693.27" width="3.20" height="1.10" fill="#6e6454" opacity="0.55"/>
<rect x="224.40" y="696.00" width="6.00" height="1.10" fill="#6e6454" opacity="0.55"/>
<rect x="246.00" y="696.00" width="6.00" height="1.10" fill="#6e6454" opacity="0.55"/>
<rect x="224.40" y="698.73" width="3.20" height="1.10" fill="#6e6454" opacity="0.55"/>
<rect x="248.80" y="698.73" width="3.20" height="1.10" fill="#6e6454" opacity="0.55"/>
<rect x="224.40" y="701.46" width="3.20" height="1.10" fill="#6e6454" opacity="0.55"/>
<rect x="248.80" y="701.46" width="3.20" height="1.10" fill="#6e6454" opacity="0.55"/>
<rect x="224.40" y="704.19" width="3.20" height="1.10" fill="#6e6454" opacity="0.55"/>
<rect x="248.80" y="704.19" width="3.20" height="1.10" fill="#6e6454" opacity="0.55"/>
<rect x="224.40" y="706.92" width="6.00" height="1.10" fill="#6e6454" opacity="0.55"/>
<rect x="246.00" y="706.92" width="6.00" height="1.10" fill="#6e6454" opacity="0.55"/>
<rect x="224.40" y="709.65" width="3.20" height="1.10" fill="#6e6454" opacity="0.55"/>
<rect x="248.80" y="709.65" width="3.20" height="1.10" fill="#6e6454" opacity="0.55"/>
<rect x="224.40" y="712.38" width="3.20" height="1.10" fill="#6e6454" opacity="0.55"/>
<rect x="248.80" y="712.38" width="3.20" height="1.10" fill="#6e6454" opacity="0.55"/>
<rect x="224.40" y="715.11" width="3.20" height="1.10" fill="#6e6454" opacity="0.55"/>
<rect x="248.80" y="715.11" width="3.20" height="1.10" fill="#6e6454" opacity="0.55"/>
<rect x="224.40" y="717.84" width="6.00" height="1.10" fill="#6e6454" opacity="0.55"/>
<rect x="246.00" y="717.84" width="6.00" height="1.10" fill="#6e6454" opacity="0.55"/>
<rect x="224.40" y="720.57" width="3.20" height="1.10" fill="#6e6454" opacity="0.55"/>
<rect x="248.80" y="720.57" width="3.20" height="1.10" fill="#6e6454" opacity="0.55"/>
<rect x="224.40" y="723.30" width="3.20" height="1.10" fill="#6e6454" opacity="0.55"/>
<rect x="248.80" y="723.30" width="3.20" height="1.10" fill="#6e6454" opacity="0.55"/>
<rect x="224.40" y="726.03" width="3.20" height="1.10" fill="#6e6454" opacity="0.55"/>
<rect x="248.80" y="726.03" width="3.20" height="1.10" fill="#6e6454" opacity="0.55"/>
<rect x="224.40" y="728.76" width="6.00" height="1.10" fill="#6e6454" opacity="0.55"/>
<rect x="246.00" y="728.76" width="6.00" height="1.10" fill="#6e6454" opacity="0.55"/>
<rect x="224.40" y="731.49" width="3.20" height="1.10" fill="#6e6454" opacity="0.55"/>
<rect x="248.80" y="731.49" width="3.20" height="1.10" fill="#6e6454" opacity="0.55"/>
<rect x="224.40" y="734.22" width="3.20" height="1.10" fill="#6e6454" opacity="0.55"/>
<rect x="248.80" y="734.22" width="3.20" height="1.10" fill="#6e6454" opacity="0.55"/>
<rect x="224.40" y="736.95" width="3.20" height="1.10" fill="#6e6454" opacity="0.55"/>
<rect x="248.80" y="736.95" width="3.20" height="1.10" fill="#6e6454" opacity="0.55"/>
<rect x="224.40" y="739.68" width="6.00" height="1.10" fill="#6e6454" opacity="0.55"/>
<rect x="246.00" y="739.68" width="6.00" height="1.10" fill="#6e6454" opacity="0.55"/>
<rect x="224.40" y="742.41" width="3.20" height="1.10" fill="#6e6454" opacity="0.55"/>
<rect x="248.80" y="742.41" width="3.20" height="1.10" fill="#6e6454" opacity="0.55"/>
<rect x="224.40" y="745.14" width="3.20" height="1.10" fill="#6e6454" opacity="0.55"/>
<rect x="248.80" y="745.14" width="3.20" height="1.10" fill="#6e6454" opacity="0.55"/>
<rect x="351.60" y="420.00" width="30.00" height="329.50" fill="url(#rul)"/>
<rect x="351.60" y="420.00" width="30.00" height="329.50" fill="url(#rul2)"/>
<rect x="362.20" y="428.00" width="4.00" height="3.00" fill="#2a2620" opacity="0.75"/>
<rect x="362.95" y="438.90" width="2.50" height="3.00" fill="#2a2620" opacity="0.75"/>
<rect x="362.20" y="449.80" width="4.00" height="3.00" fill="#2a2620" opacity="0.75"/>
<rect x="362.95" y="460.70" width="2.50" height="3.00" fill="#2a2620" opacity="0.75"/>
<rect x="362.20" y="471.60" width="4.00" height="3.00" fill="#2a2620" opacity="0.75"/>
<rect x="362.95" y="482.50" width="2.50" height="3.00" fill="#2a2620" opacity="0.75"/>
<rect x="362.20" y="493.40" width="4.00" height="3.00" fill="#2a2620" opacity="0.75"/>
<rect x="362.95" y="504.30" width="2.50" height="3.00" fill="#2a2620" opacity="0.75"/>
<rect x="362.20" y="515.20" width="4.00" height="3.00" fill="#2a2620" opacity="0.75"/>
<rect x="362.95" y="526.10" width="2.50" height="3.00" fill="#2a2620" opacity="0.75"/>
<rect x="362.20" y="537.00" width="4.00" height="3.00" fill="#2a2620" opacity="0.75"/>
<rect x="362.95" y="547.90" width="2.50" height="3.00" fill="#2a2620" opacity="0.75"/>
<rect x="362.20" y="558.80" width="4.00" height="3.00" fill="#2a2620" opacity="0.75"/>
<rect x="362.95" y="569.70" width="2.50" height="3.00" fill="#2a2620" opacity="0.75"/>
<rect x="362.20" y="580.60" width="4.00" height="3.00" fill="#2a2620" opacity="0.75"/>
<rect x="362.95" y="591.50" width="2.50" height="3.00" fill="#2a2620" opacity="0.75"/>
<rect x="362.20" y="602.40" width="4.00" height="3.00" fill="#2a2620" opacity="0.75"/>
<rect x="362.95" y="613.30" width="2.50" height="3.00" fill="#2a2620" opacity="0.75"/>
<rect x="362.20" y="624.20" width="4.00" height="3.00" fill="#2a2620" opacity="0.75"/>
<rect x="362.95" y="635.10" width="2.50" height="3.00" fill="#2a2620" opacity="0.75"/>
<rect x="362.20" y="646.00" width="4.00" height="3.00" fill="#2a2620" opacity="0.75"/>
<rect x="362.95" y="656.90" width="2.50" height="3.00" fill="#2a2620" opacity="0.75"/>
<rect x="362.20" y="667.80" width="4.00" height="3.00" fill="#2a2620" opacity="0.75"/>
<rect x="362.95" y="678.70" width="2.50" height="3.00" fill="#2a2620" opacity="0.75"/>
<rect x="362.20" y="689.60" width="4.00" height="3.00" fill="#2a2620" opacity="0.75"/>
<rect x="362.95" y="700.50" width="2.50" height="3.00" fill="#2a2620" opacity="0.75"/>
<rect x="362.20" y="711.40" width="4.00" height="3.00" fill="#2a2620" opacity="0.75"/>
<rect x="362.95" y="722.30" width="2.50" height="3.00" fill="#2a2620" opacity="0.75"/>
<rect x="362.20" y="733.20" width="4.00" height="3.00" fill="#2a2620" opacity="0.75"/>
<rect x="362.95" y="744.10" width="2.50" height="3.00" fill="#2a2620" opacity="0.75"/>
<rect x="351.60" y="423.00" width="6.00" height="1.10" fill="#6e6454" opacity="0.55"/>
<rect x="375.60" y="423.00" width="6.00" height="1.10" fill="#6e6454" opacity="0.55"/>
<rect x="351.60" y="425.73" width="3.20" height="1.10" fill="#6e6454" opacity="0.55"/>
<rect x="378.40" y="425.73" width="3.20" height="1.10" fill="#6e6454" opacity="0.55"/>
<rect x="351.60" y="428.46" width="3.20" height="1.10" fill="#6e6454" opacity="0.55"/>
<rect x="378.40" y="428.46" width="3.20" height="1.10" fill="#6e6454" opacity="0.55"/>
<rect x="351.60" y="431.19" width="3.20" height="1.10" fill="#6e6454" opacity="0.55"/>
<rect x="378.40" y="431.19" width="3.20" height="1.10" fill="#6e6454" opacity="0.55"/>
<rect x="351.60" y="433.92" width="6.00" height="1.10" fill="#6e6454" opacity="0.55"/>
<rect x="375.60" y="433.92" width="6.00" height="1.10" fill="#6e6454" opacity="0.55"/>
<rect x="351.60" y="436.65" width="3.20" height="1.10" fill="#6e6454" opacity="0.55"/>
<rect x="378.40" y="436.65" width="3.20" height="1.10" fill="#6e6454" opacity="0.55"/>
<rect x="351.60" y="439.38" width="3.20" height="1.10" fill="#6e6454" opacity="0.55"/>
<rect x="378.40" y="439.38" width="3.20" height="1.10" fill="#6e6454" opacity="0.55"/>
<rect x="351.60" y="442.11" width="3.20" height="1.10" fill="#6e6454" opacity="0.55"/>
<rect x="378.40" y="442.11" width="3.20" height="1.10" fill="#6e6454" opacity="0.55"/>
<rect x="351.60" y="444.84" width="6.00" height="1.10" fill="#6e6454" opacity="0.55"/>
<rect x="375.60" y="444.84" width="6.00" height="1.10" fill="#6e6454" opacity="0.55"/>
<rect x="351.60" y="447.57" width="3.20" height="1.10" fill="#6e6454" opacity="0.55"/>
<rect x="378.40" y="447.57" width="3.20" height="1.10" fill="#6e6454" opacity="0.55"/>
<rect x="351.60" y="450.30" width="3.20" height="1.10" fill="#6e6454" opacity="0.55"/>
<rect x="378.40" y="450.30" width="3.20" height="1.10" fill="#6e6454" opacity="0.55"/>
<rect x="351.60" y="453.03" width="3.20" height="1.10" fill="#6e6454" opacity="0.55"/>
<rect x="378.40" y="453.03" width="3.20" height="1.10" fill="#6e6454" opacity="0.55"/>
<rect x="351.60" y="455.76" width="6.00" height="1.10" fill="#6e6454" opacity="0.55"/>
<rect x="375.60" y="455.76" width="6.00" height="1.10" fill="#6e6454" opacity="0.55"/>
<rect x="351.60" y="458.49" width="3.20" height="1.10" fill="#6e6454" opacity="0.55"/>
<rect x="378.40" y="458.49" width="3.20" height="1.10" fill="#6e6454" opacity="0.55"/>
<rect x="351.60" y="461.22" width="3.20" height="1.10" fill="#6e6454" opacity="0.55"/>
<rect x="378.40" y="461.22" width="3.20" height="1.10" fill="#6e6454" opacity="0.55"/>
<rect x="351.60" y="463.95" width="3.20" height="1.10" fill="#6e6454" opacity="0.55"/>
<rect x="378.40" y="463.95" width="3.20" height="1.10" fill="#6e6454" opacity="0.55"/>
<rect x="351.60" y="466.68" width="6.00" height="1.10" fill="#6e6454" opacity="0.55"/>
<rect x="375.60" y="466.68" width="6.00" height="1.10" fill="#6e6454" opacity="0.55"/>
<rect x="351.60" y="469.41" width="3.20" height="1.10" fill="#6e6454" opacity="0.55"/>
<rect x="378.40" y="469.41" width="3.20" height="1.10" fill="#6e6454" opacity="0.55"/>
<rect x="351.60" y="472.14" width="3.20" height="1.10" fill="#6e6454" opacity="0.55"/>
<rect x="378.40" y="472.14" width="3.20" height="1.10" fill="#6e6454" opacity="0.55"/>
<rect x="351.60" y="474.87" width="3.20" height="1.10" fill="#6e6454" opacity="0.55"/>
<rect x="378.40" y="474.87" width="3.20" height="1.10" fill="#6e6454" opacity="0.55"/>
<rect x="351.60" y="477.60" width="6.00" height="1.10" fill="#6e6454" opacity="0.55"/>
<rect x="375.60" y="477.60" width="6.00" height="1.10" fill="#6e6454" opacity="0.55"/>
<rect x="351.60" y="480.33" width="3.20" height="1.10" fill="#6e6454" opacity="0.55"/>
<rect x="378.40" y="480.33" width="3.20" height="1.10" fill="#6e6454" opacity="0.55"/>
<rect x="351.60" y="483.06" width="3.20" height="1.10" fill="#6e6454" opacity="0.55"/>
<rect x="378.40" y="483.06" width="3.20" height="1.10" fill="#6e6454" opacity="0.55"/>
<rect x="351.60" y="485.79" width="3.20" height="1.10" fill="#6e6454" opacity="0.55"/>
<rect x="378.40" y="485.79" width="3.20" height="1.10" fill="#6e6454" opacity="0.55"/>
<rect x="351.60" y="488.52" width="6.00" height="1.10" fill="#6e6454" opacity="0.55"/>
<rect x="375.60" y="488.52" width="6.00" height="1.10" fill="#6e6454" opacity="0.55"/>
<rect x="351.60" y="491.25" width="3.20" height="1.10" fill="#6e6454" opacity="0.55"/>
<rect x="378.40" y="491.25" width="3.20" height="1.10" fill="#6e6454" opacity="0.55"/>
<rect x="351.60" y="493.98" width="3.20" height="1.10" fill="#6e6454" opacity="0.55"/>
<rect x="378.40" y="493.98" width="3.20" height="1.10" fill="#6e6454" opacity="0.55"/>
<rect x="351.60" y="496.71" width="3.20" height="1.10" fill="#6e6454" opacity="0.55"/>
<rect x="378.40" y="496.71" width="3.20" height="1.10" fill="#6e6454" opacity="0.55"/>
<rect x="351.60" y="499.44" width="6.00" height="1.10" fill="#6e6454" opacity="0.55"/>
<rect x="375.60" y="499.44" width="6.00" height="1.10" fill="#6e6454" opacity="0.55"/>
<rect x="351.60" y="502.17" width="3.20" height="1.10" fill="#6e6454" opacity="0.55"/>
<rect x="378.40" y="502.17" width="3.20" height="1.10" fill="#6e6454" opacity="0.55"/>
<rect x="351.60" y="504.90" width="3.20" height="1.10" fill="#6e6454" opacity="0.55"/>
<rect x="378.40" y="504.90" width="3.20" height="1.10" fill="#6e6454" opacity="0.55"/>
<rect x="351.60" y="507.63" width="3.20" height="1.10" fill="#6e6454" opacity="0.55"/>
<rect x="378.40" y="507.63" width="3.20" height="1.10" fill="#6e6454" opacity="0.55"/>
<rect x="351.60" y="510.36" width="6.00" height="1.10" fill="#6e6454" opacity="0.55"/>
<rect x="375.60" y="510.36" width="6.00" height="1.10" fill="#6e6454" opacity="0.55"/>
<rect x="351.60" y="513.09" width="3.20" height="1.10" fill="#6e6454" opacity="0.55"/>
<rect x="378.40" y="513.09" width="3.20" height="1.10" fill="#6e6454" opacity="0.55"/>
<rect x="351.60" y="515.82" width="3.20" height="1.10" fill="#6e6454" opacity="0.55"/>
<rect x="378.40" y="515.82" width="3.20" height="1.10" fill="#6e6454" opacity="0.55"/>
<rect x="351.60" y="518.55" width="3.20" height="1.10" fill="#6e6454" opacity="0.55"/>
<rect x="378.40" y="518.55" width="3.20" height="1.10" fill="#6e6454" opacity="0.55"/>
<rect x="351.60" y="521.28" width="6.00" height="1.10" fill="#6e6454" opacity="0.55"/>
<rect x="375.60" y="521.28" width="6.00" height="1.10" fill="#6e6454" opacity="0.55"/>
<rect x="351.60" y="524.01" width="3.20" height="1.10" fill="#6e6454" opacity="0.55"/>
<rect x="378.40" y="524.01" width="3.20" height="1.10" fill="#6e6454" opacity="0.55"/>
<rect x="351.60" y="526.74" width="3.20" height="1.10" fill="#6e6454" opacity="0.55"/>
<rect x="378.40" y="526.74" width="3.20" height="1.10" fill="#6e6454" opacity="0.55"/>
<rect x="351.60" y="529.47" width="3.20" height="1.10" fill="#6e6454" opacity="0.55"/>
<rect x="378.40" y="529.47" width="3.20" height="1.10" fill="#6e6454" opacity="0.55"/>
<rect x="351.60" y="532.20" width="6.00" height="1.10" fill="#6e6454" opacity="0.55"/>
<rect x="375.60" y="532.20" width="6.00" height="1.10" fill="#6e6454" opacity="0.55"/>
<rect x="351.60" y="534.93" width="3.20" height="1.10" fill="#6e6454" opacity="0.55"/>
<rect x="378.40" y="534.93" width="3.20" height="1.10" fill="#6e6454" opacity="0.55"/>
<rect x="351.60" y="537.66" width="3.20" height="1.10" fill="#6e6454" opacity="0.55"/>
<rect x="378.40" y="537.66" width="3.20" height="1.10" fill="#6e6454" opacity="0.55"/>
<rect x="351.60" y="540.39" width="3.20" height="1.10" fill="#6e6454" opacity="0.55"/>
<rect x="378.40" y="540.39" width="3.20" height="1.10" fill="#6e6454" opacity="0.55"/>
<rect x="351.60" y="543.12" width="6.00" height="1.10" fill="#6e6454" opacity="0.55"/>
<rect x="375.60" y="543.12" width="6.00" height="1.10" fill="#6e6454" opacity="0.55"/>
<rect x="351.60" y="545.85" width="3.20" height="1.10" fill="#6e6454" opacity="0.55"/>
<rect x="378.40" y="545.85" width="3.20" height="1.10" fill="#6e6454" opacity="0.55"/>
<rect x="351.60" y="548.58" width="3.20" height="1.10" fill="#6e6454" opacity="0.55"/>
<rect x="378.40" y="548.58" width="3.20" height="1.10" fill="#6e6454" opacity="0.55"/>
<rect x="351.60" y="551.31" width="3.20" height="1.10" fill="#6e6454" opacity="0.55"/>
<rect x="378.40" y="551.31" width="3.20" height="1.10" fill="#6e6454" opacity="0.55"/>
<rect x="351.60" y="554.04" width="6.00" height="1.10" fill="#6e6454" opacity="0.55"/>
<rect x="375.60" y="554.04" width="6.00" height="1.10" fill="#6e6454" opacity="0.55"/>
<rect x="351.60" y="556.77" width="3.20" height="1.10" fill="#6e6454" opacity="0.55"/>
<rect x="378.40" y="556.77" width="3.20" height="1.10" fill="#6e6454" opacity="0.55"/>
<rect x="351.60" y="559.50" width="3.20" height="1.10" fill="#6e6454" opacity="0.55"/>
<rect x="378.40" y="559.50" width="3.20" height="1.10" fill="#6e6454" opacity="0.55"/>
<rect x="351.60" y="562.23" width="3.20" height="1.10" fill="#6e6454" opacity="0.55"/>
<rect x="378.40" y="562.23" width="3.20" height="1.10" fill="#6e6454" opacity="0.55"/>
<rect x="351.60" y="564.96" width="6.00" height="1.10" fill="#6e6454" opacity="0.55"/>
<rect x="375.60" y="564.96" width="6.00" height="1.10" fill="#6e6454" opacity="0.55"/>
<rect x="351.60" y="567.69" width="3.20" height="1.10" fill="#6e6454" opacity="0.55"/>
<rect x="378.40" y="567.69" width="3.20" height="1.10" fill="#6e6454" opacity="0.55"/>
<rect x="351.60" y="570.42" width="3.20" height="1.10" fill="#6e6454" opacity="0.55"/>
<rect x="378.40" y="570.42" width="3.20" height="1.10" fill="#6e6454" opacity="0.55"/>
<rect x="351.60" y="573.15" width="3.20" height="1.10" fill="#6e6454" opacity="0.55"/>
<rect x="378.40" y="573.15" width="3.20" height="1.10" fill="#6e6454" opacity="0.55"/>
<rect x="351.60" y="575.88" width="6.00" height="1.10" fill="#6e6454" opacity="0.55"/>
<rect x="375.60" y="575.88" width="6.00" height="1.10" fill="#6e6454" opacity="0.55"/>
<rect x="351.60" y="578.61" width="3.20" height="1.10" fill="#6e6454" opacity="0.55"/>
<rect x="378.40" y="578.61" width="3.20" height="1.10" fill="#6e6454" opacity="0.55"/>
<rect x="351.60" y="581.34" width="3.20" height="1.10" fill="#6e6454" opacity="0.55"/>
<rect x="378.40" y="581.34" width="3.20" height="1.10" fill="#6e6454" opacity="0.55"/>
<rect x="351.60" y="584.07" width="3.20" height="1.10" fill="#6e6454" opacity="0.55"/>
<rect x="378.40" y="584.07" width="3.20" height="1.10" fill="#6e6454" opacity="0.55"/>
<rect x="351.60" y="586.80" width="6.00" height="1.10" fill="#6e6454" opacity="0.55"/>
<rect x="375.60" y="586.80" width="6.00" height="1.10" fill="#6e6454" opacity="0.55"/>
<rect x="351.60" y="589.53" width="3.20" height="1.10" fill="#6e6454" opacity="0.55"/>
<rect x="378.40" y="589.53" width="3.20" height="1.10" fill="#6e6454" opacity="0.55"/>
<rect x="351.60" y="592.26" width="3.20" height="1.10" fill="#6e6454" opacity="0.55"/>
<rect x="378.40" y="592.26" width="3.20" height="1.10" fill="#6e6454" opacity="0.55"/>
<rect x="351.60" y="594.99" width="3.20" height="1.10" fill="#6e6454" opacity="0.55"/>
<rect x="378.40" y="594.99" width="3.20" height="1.10" fill="#6e6454" opacity="0.55"/>
<rect x="351.60" y="597.72" width="6.00" height="1.10" fill="#6e6454" opacity="0.55"/>
<rect x="375.60" y="597.72" width="6.00" height="1.10" fill="#6e6454" opacity="0.55"/>
<rect x="351.60" y="600.45" width="3.20" height="1.10" fill="#6e6454" opacity="0.55"/>
<rect x="378.40" y="600.45" width="3.20" height="1.10" fill="#6e6454" opacity="0.55"/>
<rect x="351.60" y="603.18" width="3.20" height="1.10" fill="#6e6454" opacity="0.55"/>
<rect x="378.40" y="603.18" width="3.20" height="1.10" fill="#6e6454" opacity="0.55"/>
<rect x="351.60" y="605.91" width="3.20" height="1.10" fill="#6e6454" opacity="0.55"/>
<rect x="378.40" y="605.91" width="3.20" height="1.10" fill="#6e6454" opacity="0.55"/>
<rect x="351.60" y="608.64" width="6.00" height="1.10" fill="#6e6454" opacity="0.55"/>
<rect x="375.60" y="608.64" width="6.00" height="1.10" fill="#6e6454" opacity="0.55"/>
<rect x="351.60" y="611.37" width="3.20" height="1.10" fill="#6e6454" opacity="0.55"/>
<rect x="378.40" y="611.37" width="3.20" height="1.10" fill="#6e6454" opacity="0.55"/>
<rect x="351.60" y="614.10" width="3.20" height="1.10" fill="#6e6454" opacity="0.55"/>
<rect x="378.40" y="614.10" width="3.20" height="1.10" fill="#6e6454" opacity="0.55"/>
<rect x="351.60" y="616.83" width="3.20" height="1.10" fill="#6e6454" opacity="0.55"/>
<rect x="378.40" y="616.83" width="3.20" height="1.10" fill="#6e6454" opacity="0.55"/>
<rect x="351.60" y="619.56" width="6.00" height="1.10" fill="#6e6454" opacity="0.55"/>
<rect x="375.60" y="619.56" width="6.00" height="1.10" fill="#6e6454" opacity="0.55"/>
<rect x="351.60" y="622.29" width="3.20" height="1.10" fill="#6e6454" opacity="0.55"/>
<rect x="378.40" y="622.29" width="3.20" height="1.10" fill="#6e6454" opacity="0.55"/>
<rect x="351.60" y="625.02" width="3.20" height="1.10" fill="#6e6454" opacity="0.55"/>
<rect x="378.40" y="625.02" width="3.20" height="1.10" fill="#6e6454" opacity="0.55"/>
<rect x="351.60" y="627.75" width="3.20" height="1.10" fill="#6e6454" opacity="0.55"/>
<rect x="378.40" y="627.75" width="3.20" height="1.10" fill="#6e6454" opacity="0.55"/>
<rect x="351.60" y="630.48" width="6.00" height="1.10" fill="#6e6454" opacity="0.55"/>
<rect x="375.60" y="630.48" width="6.00" height="1.10" fill="#6e6454" opacity="0.55"/>
<rect x="351.60" y="633.21" width="3.20" height="1.10" fill="#6e6454" opacity="0.55"/>
<rect x="378.40" y="633.21" width="3.20" height="1.10" fill="#6e6454" opacity="0.55"/>
<rect x="351.60" y="635.94" width="3.20" height="1.10" fill="#6e6454" opacity="0.55"/>
<rect x="378.40" y="635.94" width="3.20" height="1.10" fill="#6e6454" opacity="0.55"/>
<rect x="351.60" y="638.67" width="3.20" height="1.10" fill="#6e6454" opacity="0.55"/>
<rect x="378.40" y="638.67" width="3.20" height="1.10" fill="#6e6454" opacity="0.55"/>
<rect x="351.60" y="641.40" width="6.00" height="1.10" fill="#6e6454" opacity="0.55"/>
<rect x="375.60" y="641.40" width="6.00" height="1.10" fill="#6e6454" opacity="0.55"/>
<rect x="351.60" y="644.13" width="3.20" height="1.10" fill="#6e6454" opacity="0.55"/>
<rect x="378.40" y="644.13" width="3.20" height="1.10" fill="#6e6454" opacity="0.55"/>
<rect x="351.60" y="646.86" width="3.20" height="1.10" fill="#6e6454" opacity="0.55"/>
<rect x="378.40" y="646.86" width="3.20" height="1.10" fill="#6e6454" opacity="0.55"/>
<rect x="351.60" y="649.59" width="3.20" height="1.10" fill="#6e6454" opacity="0.55"/>
<rect x="378.40" y="649.59" width="3.20" height="1.10" fill="#6e6454" opacity="0.55"/>
<rect x="351.60" y="652.32" width="6.00" height="1.10" fill="#6e6454" opacity="0.55"/>
<rect x="375.60" y="652.32" width="6.00" height="1.10" fill="#6e6454" opacity="0.55"/>
<rect x="351.60" y="655.05" width="3.20" height="1.10" fill="#6e6454" opacity="0.55"/>
<rect x="378.40" y="655.05" width="3.20" height="1.10" fill="#6e6454" opacity="0.55"/>
<rect x="351.60" y="657.78" width="3.20" height="1.10" fill="#6e6454" opacity="0.55"/>
<rect x="378.40" y="657.78" width="3.20" height="1.10" fill="#6e6454" opacity="0.55"/>
<rect x="351.60" y="660.51" width="3.20" height="1.10" fill="#6e6454" opacity="0.55"/>
<rect x="378.40" y="660.51" width="3.20" height="1.10" fill="#6e6454" opacity="0.55"/>
<rect x="351.60" y="663.24" width="6.00" height="1.10" fill="#6e6454" opacity="0.55"/>
<rect x="375.60" y="663.24" width="6.00" height="1.10" fill="#6e6454" opacity="0.55"/>
<rect x="351.60" y="665.97" width="3.20" height="1.10" fill="#6e6454" opacity="0.55"/>
<rect x="378.40" y="665.97" width="3.20" height="1.10" fill="#6e6454" opacity="0.55"/>
<rect x="351.60" y="668.70" width="3.20" height="1.10" fill="#6e6454" opacity="0.55"/>
<rect x="378.40" y="668.70" width="3.20" height="1.10" fill="#6e6454" opacity="0.55"/>
<rect x="351.60" y="671.43" width="3.20" height="1.10" fill="#6e6454" opacity="0.55"/>
<rect x="378.40" y="671.43" width="3.20" height="1.10" fill="#6e6454" opacity="0.55"/>
<rect x="351.60" y="674.16" width="6.00" height="1.10" fill="#6e6454" opacity="0.55"/>
<rect x="375.60" y="674.16" width="6.00" height="1.10" fill="#6e6454" opacity="0.55"/>
<rect x="351.60" y="676.89" width="3.20" height="1.10" fill="#6e6454" opacity="0.55"/>
<rect x="378.40" y="676.89" width="3.20" height="1.10" fill="#6e6454" opacity="0.55"/>
<rect x="351.60" y="679.62" width="3.20" height="1.10" fill="#6e6454" opacity="0.55"/>
<rect x="378.40" y="679.62" width="3.20" height="1.10" fill="#6e6454" opacity="0.55"/>
<rect x="351.60" y="682.35" width="3.20" height="1.10" fill="#6e6454" opacity="0.55"/>
<rect x="378.40" y="682.35" width="3.20" height="1.10" fill="#6e6454" opacity="0.55"/>
<rect x="351.60" y="685.08" width="6.00" height="1.10" fill="#6e6454" opacity="0.55"/>
<rect x="375.60" y="685.08" width="6.00" height="1.10" fill="#6e6454" opacity="0.55"/>
<rect x="351.60" y="687.81" width="3.20" height="1.10" fill="#6e6454" opacity="0.55"/>
<rect x="378.40" y="687.81" width="3.20" height="1.10" fill="#6e6454" opacity="0.55"/>
<rect x="351.60" y="690.54" width="3.20" height="1.10" fill="#6e6454" opacity="0.55"/>
<rect x="378.40" y="690.54" width="3.20" height="1.10" fill="#6e6454" opacity="0.55"/>
<rect x="351.60" y="693.27" width="3.20" height="1.10" fill="#6e6454" opacity="0.55"/>
<rect x="378.40" y="693.27" width="3.20" height="1.10" fill="#6e6454" opacity="0.55"/>
<rect x="351.60" y="696.00" width="6.00" height="1.10" fill="#6e6454" opacity="0.55"/>
<rect x="375.60" y="696.00" width="6.00" height="1.10" fill="#6e6454" opacity="0.55"/>
<rect x="351.60" y="698.73" width="3.20" height="1.10" fill="#6e6454" opacity="0.55"/>
<rect x="378.40" y="698.73" width="3.20" height="1.10" fill="#6e6454" opacity="0.55"/>
<rect x="351.60" y="701.46" width="3.20" height="1.10" fill="#6e6454" opacity="0.55"/>
<rect x="378.40" y="701.46" width="3.20" height="1.10" fill="#6e6454" opacity="0.55"/>
<rect x="351.60" y="704.19" width="3.20" height="1.10" fill="#6e6454" opacity="0.55"/>
<rect x="378.40" y="704.19" width="3.20" height="1.10" fill="#6e6454" opacity="0.55"/>
<rect x="351.60" y="706.92" width="6.00" height="1.10" fill="#6e6454" opacity="0.55"/>
<rect x="375.60" y="706.92" width="6.00" height="1.10" fill="#6e6454" opacity="0.55"/>
<rect x="351.60" y="709.65" width="3.20" height="1.10" fill="#6e6454" opacity="0.55"/>
<rect x="378.40" y="709.65" width="3.20" height="1.10" fill="#6e6454" opacity="0.55"/>
<rect x="351.60" y="712.38" width="3.20" height="1.10" fill="#6e6454" opacity="0.55"/>
<rect x="378.40" y="712.38" width="3.20" height="1.10" fill="#6e6454" opacity="0.55"/>
<rect x="351.60" y="715.11" width="3.20" height="1.10" fill="#6e6454" opacity="0.55"/>
<rect x="378.40" y="715.11" width="3.20" height="1.10" fill="#6e6454" opacity="0.55"/>
<rect x="351.60" y="717.84" width="6.00" height="1.10" fill="#6e6454" opacity="0.55"/>
<rect x="375.60" y="717.84" width="6.00" height="1.10" fill="#6e6454" opacity="0.55"/>
<rect x="351.60" y="720.57" width="3.20" height="1.10" fill="#6e6454" opacity="0.55"/>
<rect x="378.40" y="720.57" width="3.20" height="1.10" fill="#6e6454" opacity="0.55"/>
<rect x="351.60" y="723.30" width="3.20" height="1.10" fill="#6e6454" opacity="0.55"/>
<rect x="378.40" y="723.30" width="3.20" height="1.10" fill="#6e6454" opacity="0.55"/>
<rect x="351.60" y="726.03" width="3.20" height="1.10" fill="#6e6454" opacity="0.55"/>
<rect x="378.40" y="726.03" width="3.20" height="1.10" fill="#6e6454" opacity="0.55"/>
<rect x="351.60" y="728.76" width="6.00" height="1.10" fill="#6e6454" opacity="0.55"/>
<rect x="375.60" y="728.76" width="6.00" height="1.10" fill="#6e6454" opacity="0.55"/>
<rect x="351.60" y="731.49" width="3.20" height="1.10" fill="#6e6454" opacity="0.55"/>
<rect x="378.40" y="731.49" width="3.20" height="1.10" fill="#6e6454" opacity="0.55"/>
<rect x="351.60" y="734.22" width="3.20" height="1.10" fill="#6e6454" opacity="0.55"/>
<rect x="378.40" y="734.22" width="3.20" height="1.10" fill="#6e6454" opacity="0.55"/>
<rect x="351.60" y="736.95" width="3.20" height="1.10" fill="#6e6454" opacity="0.55"/>
<rect x="378.40" y="736.95" width="3.20" height="1.10" fill="#6e6454" opacity="0.55"/>
<rect x="351.60" y="739.68" width="6.00" height="1.10" fill="#6e6454" opacity="0.55"/>
<rect x="375.60" y="739.68" width="6.00" height="1.10" fill="#6e6454" opacity="0.55"/>
<rect x="351.60" y="742.41" width="3.20" height="1.10" fill="#6e6454" opacity="0.55"/>
<rect x="378.40" y="742.41" width="3.20" height="1.10" fill="#6e6454" opacity="0.55"/>
<rect x="351.60" y="745.14" width="3.20" height="1.10" fill="#6e6454" opacity="0.55"/>
<rect x="378.40" y="745.14" width="3.20" height="1.10" fill="#6e6454" opacity="0.55"/>
<g filter="url(#fb)">
<path d="M126,421 L170,421 C171,432 168,442 160,449 C153,455 143,455 136,449 C128,442 125,432 126,421 Z" fill="#4a4238"/>
<path d="M127,421 L169,421 C169.5,428 167,434 163,440 C154,433 142,433 133,440 C129,434 126.5,428 127,421 Z" fill="#d6cec0"/>
<path d="M129,423 L140,423 C139,428 137,432 134,436 C131,432 129,428 129,423 Z" fill="#f2ede4" opacity="0.8"/>
<path d="M155,423 L167,423 C167,428 165,432 162,436 C159,431 156,427 155,423 Z" fill="#ece8e0" opacity="0.7"/>
<path d="M129,441 C136,455 160,455 167,441" fill="none" stroke="#8a8276" stroke-width="1.6"/>
<circle cx="145" cy="424.5" r="2.2" fill="#111"/><circle cx="144.5" cy="430.5" r="2.4" fill="#2a2420"/>
</g>
<defs><linearGradient id="ms" x1="0" y1="0" x2="1" y2="0">
<stop offset="0" stop-color="#6a5e52"/><stop offset="0.15" stop-color="#c8b8a6"/><stop offset="0.3" stop-color="#e8dccc"/><stop offset="0.42" stop-color="#a89684"/>
<stop offset="0.58" stop-color="#fbf6ee"/><stop offset="0.75" stop-color="#d0c2b2"/><stop offset="1" stop-color="#6e6256"/></linearGradient>
<linearGradient id="msv" x1="0" y1="0" x2="0" y2="1"><stop offset="0" stop-color="#000" stop-opacity="0.05"/><stop offset="0.6" stop-color="#000" stop-opacity="0"/><stop offset="1" stop-color="#000" stop-opacity="0.45"/></linearGradient></defs>
<g filter="url(#fb)">
<ellipse cx="288.8" cy="575.1" rx="14.4" ry="22.5" fill="url(#ms)"/>
<ellipse cx="288.8" cy="575.1" rx="14.4" ry="22.5" fill="url(#msv)"/>
<ellipse cx="438" cy="708.2" rx="20.4" ry="21.7" fill="url(#ms)"/>
<ellipse cx="438" cy="708.2" rx="20.4" ry="21.7" fill="url(#msv)"/>
</g>
<rect x="129" y="729" width="27" height="21" rx="8" ry="6" fill="#f2f0ea"/>
<rect x="131" y="738.5" width="23" height="2" fill="#c8c6c0"/>
<rect x="277.5" y="727.6" width="26.5" height="21.0" rx="8" ry="6" fill="#f2f0ea"/>
<rect x="279.5" y="737.1" width="22.5" height="2" fill="#c8c6c0"/>
<rect x="420" y="728.5" width="28" height="19.5" rx="8" ry="6" fill="#f2f0ea"/>
<rect x="422" y="737.25" width="24" height="2" fill="#c8c6c0"/>
<line x1="62.75" y1="417.00" x2="62.75" y2="736.50" stroke="#ea2a2e" stroke-width="4"/>
<line x1="57.00" y1="417.50" x2="72.00" y2="417.50" stroke="#ea2a2e" stroke-width="3.5"/>
<circle cx="71.5" cy="417.5" r="3.3" fill="#ea2a2e"/>
<line x1="57.00" y1="736.00" x2="70.00" y2="736.00" stroke="#ea2a2e" stroke-width="3.5"/>
<polygon points="68.00,731.00 77.50,736.00 68.00,741.00" fill="#ea2a2e"/>
<line x1="141.00" y1="734.50" x2="437.40" y2="734.50" stroke="#ea2a2e" stroke-width="4.2" stroke-dasharray="13.5 10"/>
<text transform="translate(36.50,543.00) rotate(90) scale(1.0013,1) translate(-1.01,0)" font-size="26.5" fill="#ee2a2e">30 cm</text>
<rect x="609.25" y="417.50" width="372.75" height="302.50" fill="none" stroke="#000" stroke-width="2.2"/>
<line x1="609.25" y1="442.50" x2="615.75" y2="442.50" stroke="#000" stroke-width="2"/>
<text transform="translate(546.81,448.80) scale(0.9800,1)" font-size="29.1" fill="#000" stroke="#000" stroke-width="0.1">0.00</text>
<line x1="609.25" y1="474.06" x2="612.75" y2="474.06" stroke="#000" stroke-width="2"/>
<line x1="609.25" y1="505.62" x2="615.75" y2="505.62" stroke="#000" stroke-width="2"/>
<text transform="translate(537.40,511.93) scale(0.9800,1)" font-size="29.1" fill="#000" stroke="#000" stroke-width="0.1">-0.05</text>
<line x1="609.25" y1="537.19" x2="612.75" y2="537.19" stroke="#000" stroke-width="2"/>
<line x1="609.25" y1="568.75" x2="615.75" y2="568.75" stroke="#000" stroke-width="2"/>
<text transform="translate(537.31,575.05) scale(0.9800,1)" font-size="29.1" fill="#000" stroke="#000" stroke-width="0.1">-0.10</text>
<line x1="609.25" y1="600.31" x2="612.75" y2="600.31" stroke="#000" stroke-width="2"/>
<line x1="609.25" y1="631.88" x2="615.75" y2="631.88" stroke="#000" stroke-width="2"/>
<text transform="translate(537.40,638.17) scale(0.9800,1)" font-size="29.1" fill="#000" stroke="#000" stroke-width="0.1">-0.15</text>
<line x1="609.25" y1="663.44" x2="612.75" y2="663.44" stroke="#000" stroke-width="2"/>
<line x1="609.25" y1="695.00" x2="615.75" y2="695.00" stroke="#000" stroke-width="2"/>
<text transform="translate(537.31,701.30) scale(0.9800,1)" font-size="29.1" fill="#000" stroke="#000" stroke-width="0.1">-0.20</text>
<line x1="641.25" y1="720.00" x2="641.25" y2="714.50" stroke="#000" stroke-width="2"/>
<text transform="translate(622.76,749.10) scale(0.9400,1)" font-size="28.3" fill="#000" stroke="#000" stroke-width="0.1">0.0</text>
<line x1="703.25" y1="720.00" x2="703.25" y2="714.50" stroke="#000" stroke-width="2"/>
<text transform="translate(684.89,749.10) scale(0.9400,1)" font-size="28.3" fill="#000" stroke="#000" stroke-width="0.1">0.1</text>
<line x1="765.25" y1="720.00" x2="765.25" y2="714.50" stroke="#000" stroke-width="2"/>
<text transform="translate(746.91,749.10) scale(0.9400,1)" font-size="28.3" fill="#000" stroke="#000" stroke-width="0.1">0.2</text>
<line x1="827.25" y1="720.00" x2="827.25" y2="714.50" stroke="#000" stroke-width="2"/>
<text transform="translate(808.82,749.10) scale(0.9400,1)" font-size="28.3" fill="#000" stroke="#000" stroke-width="0.1">0.3</text>
<line x1="889.25" y1="720.00" x2="889.25" y2="714.50" stroke="#000" stroke-width="2"/>
<text transform="translate(870.63,749.10) scale(0.9400,1)" font-size="28.3" fill="#000" stroke="#000" stroke-width="0.1">0.4</text>
<line x1="951.25" y1="720.00" x2="951.25" y2="714.50" stroke="#000" stroke-width="2"/>
<text transform="translate(932.80,749.10) scale(0.9400,1)" font-size="28.3" fill="#000" stroke="#000" stroke-width="0.1">0.5</text>
<text transform="translate(600.36,777.90) scale(1.0065,1)" font-size="28.2" fill="#000" stroke="#000" stroke-width="0.1">Compressive strain (mm mm</text>
<text transform="translate(962.82,766.40) scale(1.0994,1)" font-size="16" fill="#000" stroke="#000" stroke-width="0.1">-1</text>
<text transform="translate(981.84,777.60) scale(1.0445,1)" font-size="26" fill="#000" stroke="#000" stroke-width="0.1">)</text>
<text transform="translate(532.90,663.40) rotate(-90) scale(0.9677,1) translate(-2.42,0)" font-size="29.5" fill="#000" stroke="#000" stroke-width="0.1">Poisson's ratio</text>
<text transform="translate(654.14,452.30) scale(1.1264,1)" font-size="19.5" fill="#000" stroke="#000" stroke-width="0.3">0</text>
<text transform="translate(743.41,549.30) scale(0.9679,1)" font-size="23" fill="#000" stroke="#000" stroke-width="0.3">-0.115</text>
<text transform="translate(797.98,583.80) scale(0.9969,1)" font-size="23" fill="#000" stroke="#000" stroke-width="0.3">-0.138</text>
<text transform="translate(839.96,613.80) scale(1.0129,1)" font-size="23" fill="#000" stroke="#000" stroke-width="0.3">-0.193</text>
<text transform="translate(892.48,655.80) scale(0.9994,1)" font-size="23" fill="#000" stroke="#000" stroke-width="0.3">-0.207</text>
<polyline points="640.40,442.00 646.00,447.60 662.00,466.00 678.00,483.60 694.00,502.00 710.00,519.60 726.00,537.20 742.00,556.40 758.00,574.00 765.00,582.00 771.00,587.60 780.00,593.30 799.00,605.60 818.00,619.00 837.00,635.10 856.00,651.30 875.00,667.40 894.00,683.60 898.00,686.40 913.00,691.20 932.00,696.90 956.70,704.50" fill="none" stroke="#000" stroke-width="2.0" stroke-linejoin="round"/>
<defs>
<linearGradient id="metb" x1="0" y1="0" x2="1" y2="0">
<stop offset="0" stop-color="#6a6a66"/><stop offset="0.35" stop-color="#c8c8c4"/><stop offset="0.5" stop-color="#e0e0dc"/><stop offset="0.7" stop-color="#b0b0ac"/><stop offset="1" stop-color="#707070"/>
</linearGradient>
<linearGradient id="samp" x1="0" y1="0" x2="1" y2="0">
<stop offset="0" stop-color="#c4c4c0"/><stop offset="0.5" stop-color="#dcdcd8"/><stop offset="1" stop-color="#bcbcb8"/>
</linearGradient>
<linearGradient id="blk" x1="0" y1="0" x2="0" y2="1">
<stop offset="0" stop-color="#0a0a0a"/><stop offset="0.6" stop-color="#111"/><stop offset="0.8" stop-color="#3a3c42"/><stop offset="1" stop-color="#2a2a2e"/>
</linearGradient>
</defs>
<rect x="770.50" y="432.70" width="72.30" height="52.70" fill="url(#blk)"/>
<rect x="770.50" y="432.70" width="72.30" height="6.00" fill="url(#metb)"/>
<rect x="794.30" y="438.60" width="27.20" height="39.50" fill="url(#samp)"/>
<rect x="770.50" y="477.70" width="72.30" height="2.00" fill="#8a8a88"/>
<rect x="770.50" y="479.40" width="72.30" height="2.80" fill="#ecece8"/>
<rect x="770.50" y="482.20" width="72.30" height="3.20" fill="url(#metb)"/>
<rect x="879.70" y="468.80" width="86.50" height="56.10" fill="url(#blk)"/>
<rect x="879.70" y="468.80" width="86.50" height="8.20" fill="url(#metb)"/>
<path d="M908,477 L934.3,477 C931,486 929,492 931,498 C933,504 934,509 934.3,513 L908,513 C909,506 911,500 910,494 C909,488 907,483 908,477 Z" fill="url(#samp)"/>
<rect x="879.70" y="512.50" width="86.50" height="1.50" fill="#7a7a78"/>
<rect x="879.70" y="513.50" width="86.50" height="4.20" fill="#ecece8"/>
<rect x="879.70" y="517.70" width="86.50" height="7.20" fill="url(#metb)"/>
<line x1="887.00" y1="494.50" x2="898.00" y2="494.50" stroke="#ee2020" stroke-width="2.5"/>
<polygon points="896.00,490.00 902.50,494.50 896.00,499.00" fill="#ee2020"/>
<path d="M901,487 Q909,494 898.5,506" fill="none" stroke="#ee2020" stroke-width="2.2"/>
<circle cx="900.8" cy="484.7" r="1.6" fill="#ee2020"/>
<line x1="963.00" y1="494.50" x2="952.00" y2="494.50" stroke="#ee2020" stroke-width="2.5"/>
<polygon points="954.00,490.00 947.50,494.50 954.00,499.00" fill="#ee2020"/>
<path d="M948.5,485.5 Q941,494 948.5,504.5" fill="none" stroke="#ee2020" stroke-width="2.2" stroke-dasharray="5 3"/>
<rect x="83.00" y="848.00" width="382.30" height="300.00" fill="none" stroke="#000" stroke-width="2.2"/>
<line x1="83.00" y1="1119.47" x2="86.50" y2="1119.47" stroke="#000" stroke-width="2"/>
<line x1="83.00" y1="1089.25" x2="89.50" y2="1089.25" stroke="#000" stroke-width="2"/>
<text transform="translate(37.59,1097.25) scale(1.0000,1)" font-size="28.5" fill="#000" stroke="#000" stroke-width="0.3">0.0</text>
<line x1="83.00" y1="1059.03" x2="86.50" y2="1059.03" stroke="#000" stroke-width="2"/>
<line x1="83.00" y1="1028.80" x2="89.50" y2="1028.80" stroke="#000" stroke-width="2"/>
<text transform="translate(37.68,1036.80) scale(1.0000,1)" font-size="28.5" fill="#000" stroke="#000" stroke-width="0.3">0.5</text>
<line x1="83.00" y1="998.58" x2="86.50" y2="998.58" stroke="#000" stroke-width="2"/>
<line x1="83.00" y1="968.35" x2="89.50" y2="968.35" stroke="#000" stroke-width="2"/>
<text transform="translate(37.59,976.35) scale(1.0000,1)" font-size="28.5" fill="#000" stroke="#000" stroke-width="0.3">1.0</text>
<line x1="83.00" y1="938.12" x2="86.50" y2="938.12" stroke="#000" stroke-width="2"/>
<line x1="83.00" y1="907.90" x2="89.50" y2="907.90" stroke="#000" stroke-width="2"/>
<text transform="translate(37.68,915.90) scale(1.0000,1)" font-size="28.5" fill="#000" stroke="#000" stroke-width="0.3">1.5</text>
<line x1="83.00" y1="877.67" x2="86.50" y2="877.67" stroke="#000" stroke-width="2"/>
<line x1="83.00" y1="847.45" x2="89.50" y2="847.45" stroke="#000" stroke-width="2"/>
<text transform="translate(37.59,855.45) scale(1.0000,1)" font-size="28.5" fill="#000" stroke="#000" stroke-width="0.3">2.0</text>
<line x1="83.00" y1="1148.00" x2="83.00" y2="1142.00" stroke="#000" stroke-width="2"/>
<line x1="107.56" y1="1148.00" x2="107.56" y2="1144.50" stroke="#000" stroke-width="2"/>
<line x1="121.93" y1="1148.00" x2="121.93" y2="1144.50" stroke="#000" stroke-width="2"/>
<line x1="132.13" y1="1148.00" x2="132.13" y2="1144.50" stroke="#000" stroke-width="2"/>
<line x1="140.04" y1="1148.00" x2="140.04" y2="1144.50" stroke="#000" stroke-width="2"/>
<line x1="146.50" y1="1148.00" x2="146.50" y2="1144.50" stroke="#000" stroke-width="2"/>
<line x1="151.96" y1="1148.00" x2="151.96" y2="1144.50" stroke="#000" stroke-width="2"/>
<line x1="156.69" y1="1148.00" x2="156.69" y2="1144.50" stroke="#000" stroke-width="2"/>
<line x1="160.87" y1="1148.00" x2="160.87" y2="1144.50" stroke="#000" stroke-width="2"/>
<text transform="translate(56.43,1175.35) scale(1.0600,1)" font-size="25.4" fill="#000" stroke="#000" stroke-width="0.3">0.01</text>
<line x1="164.60" y1="1148.00" x2="164.60" y2="1142.00" stroke="#000" stroke-width="2"/>
<line x1="189.16" y1="1148.00" x2="189.16" y2="1144.50" stroke="#000" stroke-width="2"/>
<line x1="203.53" y1="1148.00" x2="203.53" y2="1144.50" stroke="#000" stroke-width="2"/>
<line x1="213.73" y1="1148.00" x2="213.73" y2="1144.50" stroke="#000" stroke-width="2"/>
<line x1="221.64" y1="1148.00" x2="221.64" y2="1144.50" stroke="#000" stroke-width="2"/>
<line x1="228.10" y1="1148.00" x2="228.10" y2="1144.50" stroke="#000" stroke-width="2"/>
<line x1="233.56" y1="1148.00" x2="233.56" y2="1144.50" stroke="#000" stroke-width="2"/>
<line x1="238.29" y1="1148.00" x2="238.29" y2="1144.50" stroke="#000" stroke-width="2"/>
<line x1="242.47" y1="1148.00" x2="242.47" y2="1144.50" stroke="#000" stroke-width="2"/>
<text transform="translate(146.02,1175.35) scale(1.0600,1)" font-size="25.4" fill="#000" stroke="#000" stroke-width="0.3">0.1</text>
<line x1="246.20" y1="1148.00" x2="246.20" y2="1142.00" stroke="#000" stroke-width="2"/>
<line x1="270.76" y1="1148.00" x2="270.76" y2="1144.50" stroke="#000" stroke-width="2"/>
<line x1="285.13" y1="1148.00" x2="285.13" y2="1144.50" stroke="#000" stroke-width="2"/>
<line x1="295.33" y1="1148.00" x2="295.33" y2="1144.50" stroke="#000" stroke-width="2"/>
<line x1="303.24" y1="1148.00" x2="303.24" y2="1144.50" stroke="#000" stroke-width="2"/>
<line x1="309.70" y1="1148.00" x2="309.70" y2="1144.50" stroke="#000" stroke-width="2"/>
<line x1="315.16" y1="1148.00" x2="315.16" y2="1144.50" stroke="#000" stroke-width="2"/>
<line x1="319.89" y1="1148.00" x2="319.89" y2="1144.50" stroke="#000" stroke-width="2"/>
<line x1="324.07" y1="1148.00" x2="324.07" y2="1144.50" stroke="#000" stroke-width="2"/>
<text transform="translate(238.34,1175.35) scale(1.0600,1)" font-size="25.4" fill="#000" stroke="#000" stroke-width="0.3">1</text>
<line x1="327.80" y1="1148.00" x2="327.80" y2="1142.00" stroke="#000" stroke-width="2"/>
<line x1="352.36" y1="1148.00" x2="352.36" y2="1144.50" stroke="#000" stroke-width="2"/>
<line x1="366.73" y1="1148.00" x2="366.73" y2="1144.50" stroke="#000" stroke-width="2"/>
<line x1="376.93" y1="1148.00" x2="376.93" y2="1144.50" stroke="#000" stroke-width="2"/>
<line x1="384.84" y1="1148.00" x2="384.84" y2="1144.50" stroke="#000" stroke-width="2"/>
<line x1="391.30" y1="1148.00" x2="391.30" y2="1144.50" stroke="#000" stroke-width="2"/>
<line x1="396.76" y1="1148.00" x2="396.76" y2="1144.50" stroke="#000" stroke-width="2"/>
<line x1="401.49" y1="1148.00" x2="401.49" y2="1144.50" stroke="#000" stroke-width="2"/>
<line x1="405.67" y1="1148.00" x2="405.67" y2="1144.50" stroke="#000" stroke-width="2"/>
<text transform="translate(312.33,1175.35) scale(1.0600,1)" font-size="25.4" fill="#000" stroke="#000" stroke-width="0.3">10</text>
<line x1="409.40" y1="1148.00" x2="409.40" y2="1142.00" stroke="#000" stroke-width="2"/>
<line x1="433.96" y1="1148.00" x2="433.96" y2="1144.50" stroke="#000" stroke-width="2"/>
<line x1="448.33" y1="1148.00" x2="448.33" y2="1144.50" stroke="#000" stroke-width="2"/>
<line x1="458.53" y1="1148.00" x2="458.53" y2="1144.50" stroke="#000" stroke-width="2"/>
<text transform="translate(386.44,1175.35) scale(1.0600,1)" font-size="25.4" fill="#000" stroke="#000" stroke-width="0.3">100</text>
<text transform="translate(177.22,1200.60) scale(1.1090,1)" font-size="26.2" fill="#000" stroke="#000" stroke-width="0.1">Modulus (MPa)</text>
<text transform="translate(28.20,1095.30) rotate(-90) scale(0.9594,1) translate(-2.42,0)" font-size="29.5" fill="#000" stroke="#000" stroke-width="0.1">Density (g cm</text>
<text transform="translate(14.90,924.20) rotate(-90) scale(1.1900,1) translate(-0.76,0)" font-size="17" fill="#000" stroke="#000" stroke-width="0.1">-3</text>
<text transform="translate(27.50,905.80) rotate(-90) scale(1.0009,1) translate(-0.15,0)" font-size="26" fill="#000" stroke="#000" stroke-width="0.1">)</text>
<text transform="translate(205.86,898.40) scale(1.0172,1)" font-size="25.6" fill="#a06cc2" stroke="#a06cc2" stroke-width="0.1">Polystyrene rubber</text>
<text transform="translate(346.84,922.00) scale(1.0520,1)" font-size="25.0" fill="#5840ae" stroke="#5840ae" stroke-width="0.1">Polymers</text>
<text transform="translate(324.68,976.80) scale(1.0406,1)" font-size="25.0" fill="#000" stroke="#000" stroke-width="0.1">Commercial</text>
<text transform="translate(324.50,1007.50) scale(0.9932,1)" font-size="26" fill="#000" stroke="#000" stroke-width="0.1">cement</text>
<text transform="translate(203.86,994.60) scale(0.9759,1)" font-size="26.7" fill="#1a7a32" stroke="#1a7a32" stroke-width="0.1">Leather</text>
<text transform="translate(85.76,1026.60) scale(1.0897,1)" font-size="24.3" fill="#a8461c" stroke="#a8461c" stroke-width="0.1">Cellulose</text>
<text transform="translate(93.68,1057.40) scale(1.0803,1)" font-size="24.5" fill="#a8461c" stroke="#a8461c" stroke-width="0.1">aerogel</text>
<text transform="translate(131.06,1108.50) scale(1.0850,1)" font-size="24.3" fill="#1a6a2c" stroke="#1a6a2c" stroke-width="0.1">Zircon</text>
<text transform="translate(130.78,1139.30) scale(1.0715,1)" font-size="24.5" fill="#1a6a2c" stroke="#1a6a2c" stroke-width="0.1">aerogel</text>
<text transform="translate(239.08,1100.60) scale(1.0933,1)" font-size="23.7" fill="#000" stroke="#000" stroke-width="0.1">Cellular</text>
<text transform="translate(239.30,1131.50) scale(1.0004,1)" font-size="26" fill="#000" stroke="#000" stroke-width="0.1">cement</text>
<text transform="translate(306.18,1065.00) scale(1.0096,1)" font-size="25.7" fill="#a09a30" stroke="#a09a30" stroke-width="0.1">Cork</text>
<text transform="translate(351.42,1118.60) scale(1.0852,1)" font-size="23.7" fill="#ee1c24" stroke="#ee1c24" stroke-width="0.1">This work</text>
<polygon points="296.5,863 304,860.5 311.5,863 311.5,873 304,875.5 296.5,873" fill="#b07cc8"/>
<circle cx="304" cy="868" r="7" fill="#b07cc8"/>
<rect x="405.40" y="938.00" width="14.10" height="12.50" fill="#6650b4"/>
<polygon points="296.00,998.20 304.70,981.40 313.40,998.20" fill="#1a7a32"/>
<path d="M442.5,1011.0 L452.0,1001.5 L461.5,1011.0 Q452.0,1013.5 442.5,1011.0 Z" fill="#000"/>
<path d="M442.5,1011.0 L452.0,1001.5 L461.5,1011.0 L452.0,1020.5 Z" fill="none" stroke="#000" stroke-width="1.8"/>
<path d="M329.8,1079.0 Q339.3,1082.0 348.8,1079.0 L339.3,1088.5 Z" fill="#000"/>
<path d="M329.8,1079.0 L339.3,1069.5 L348.8,1079.0 L339.3,1088.5 Z" fill="none" stroke="#000" stroke-width="1.8"/>
<path d="M367.3,1066.6 C367.3,1060.5 371,1057.5 376,1057.5 C381,1057.5 384.5,1060.5 384.5,1066.6 L381.5,1066.6 L380.5,1064.8 L371.5,1064.8 L370.5,1066.6 Z" fill="#a09a30"/><circle cx="376" cy="1056.8" r="1.6" fill="#a09a30"/>
<polygon points="118.00,1085.50 119.50,1077.00 133.50,1077.50" fill="#a8461c"/>
<line x1="120.00" y1="1069.50" x2="127.50" y2="1074.00" stroke="#a8461c" stroke-width="1.8" stroke-dasharray="2.5 2"/>
<rect x="160.00" y="1086.50" width="11.50" height="6.50" fill="#1a6a2c"/>
<line x1="159.80" y1="1081.00" x2="159.80" y2="1093.00" stroke="#1a6a2c" stroke-width="1.8"/>
<line x1="400.70" y1="1026.40" x2="424.00" y2="1052.00" stroke="#ee1c24" stroke-width="3.2" stroke-linecap="round"/>
<polygon points="414.50,1052.50 424.30,1044.60 435.40,1066.00" fill="#ee1c24"/>
<polygon points="449.30,1063.50 452.83,1071.15 461.19,1072.14 455.01,1077.85 456.65,1086.11 449.30,1082.00 441.95,1086.11 443.59,1077.85 437.41,1072.14 445.77,1071.15" fill="#ee1c24"/>
<path d="M599.5,850.4 L801,850.4 M809,850.4 L981.4,850.4 L981.4,1147.4 L809,1147.4 M801,1147.4 L599.5,1147.4 Z" fill="none" stroke="#000" stroke-width="2.2"/>
<path d="M599.5,1147.4 L599.5,850.4" stroke="#000" stroke-width="2.2"/>
<line x1="798.00" y1="855.40" x2="805.00" y2="845.40" stroke="#000" stroke-width="2.2"/>
<line x1="805.00" y1="855.40" x2="812.00" y2="845.40" stroke="#000" stroke-width="2.2"/>
<line x1="798.00" y1="1152.40" x2="805.00" y2="1142.40" stroke="#000" stroke-width="2.2"/>
<line x1="805.00" y1="1152.40" x2="812.00" y2="1142.40" stroke="#000" stroke-width="2.2"/>
<line x1="599.50" y1="1119.25" x2="606.00" y2="1119.25" stroke="#000" stroke-width="2"/>
<text transform="translate(553.03,1128.00) scale(1.0900,1)" font-size="26.6" fill="#000" stroke="#000" stroke-width="0.3">0.0</text>
<line x1="599.50" y1="1092.33" x2="603.00" y2="1092.33" stroke="#000" stroke-width="2"/>
<line x1="599.50" y1="1065.40" x2="606.00" y2="1065.40" stroke="#000" stroke-width="2"/>
<text transform="translate(553.11,1074.15) scale(1.0900,1)" font-size="26.6" fill="#000" stroke="#000" stroke-width="0.3">0.5</text>
<line x1="599.50" y1="1038.47" x2="603.00" y2="1038.47" stroke="#000" stroke-width="2"/>
<line x1="599.50" y1="1011.55" x2="606.00" y2="1011.55" stroke="#000" stroke-width="2"/>
<text transform="translate(553.03,1020.30) scale(1.0900,1)" font-size="26.6" fill="#000" stroke="#000" stroke-width="0.3">1.0</text>
<line x1="599.50" y1="984.62" x2="603.00" y2="984.62" stroke="#000" stroke-width="2"/>
<line x1="599.50" y1="957.70" x2="606.00" y2="957.70" stroke="#000" stroke-width="2"/>
<text transform="translate(553.11,966.45) scale(1.0900,1)" font-size="26.6" fill="#000" stroke="#000" stroke-width="0.3">1.5</text>
<line x1="599.50" y1="930.77" x2="603.00" y2="930.77" stroke="#000" stroke-width="2"/>
<line x1="599.50" y1="903.85" x2="606.00" y2="903.85" stroke="#000" stroke-width="2"/>
<text transform="translate(553.03,912.60) scale(1.0900,1)" font-size="26.6" fill="#000" stroke="#000" stroke-width="0.3">2.0</text>
<line x1="599.50" y1="876.92" x2="603.00" y2="876.92" stroke="#000" stroke-width="2"/>
<line x1="599.50" y1="850.00" x2="606.00" y2="850.00" stroke="#000" stroke-width="2"/>
<text transform="translate(553.11,858.75) scale(1.0900,1)" font-size="26.6" fill="#000" stroke="#000" stroke-width="0.3">2.5</text>
<line x1="600.00" y1="1147.40" x2="600.00" y2="1142.40" stroke="#000" stroke-width="2"/>
<text transform="translate(592.31,1175.80) scale(0.9700,1)" font-size="28.5" fill="#000" stroke="#000" stroke-width="0.3">0</text>
<line x1="657.67" y1="1147.40" x2="657.67" y2="1142.40" stroke="#000" stroke-width="2"/>
<text transform="translate(649.60,1175.80) scale(0.9700,1)" font-size="28.5" fill="#000" stroke="#000" stroke-width="0.3">1</text>
<line x1="715.34" y1="1147.40" x2="715.34" y2="1142.40" stroke="#000" stroke-width="2"/>
<text transform="translate(707.65,1175.80) scale(0.9700,1)" font-size="28.5" fill="#000" stroke="#000" stroke-width="0.3">2</text>
<line x1="773.01" y1="1147.40" x2="773.01" y2="1142.40" stroke="#000" stroke-width="2"/>
<text transform="translate(765.40,1175.80) scale(0.9700,1)" font-size="28.5" fill="#000" stroke="#000" stroke-width="0.3">3</text>
<line x1="866.00" y1="1147.40" x2="866.00" y2="1142.40" stroke="#000" stroke-width="2"/>
<text transform="translate(850.18,1175.80) scale(0.9700,1)" font-size="28.5" fill="#000" stroke="#000" stroke-width="0.3">13</text>
<line x1="923.70" y1="1147.40" x2="923.70" y2="1142.40" stroke="#000" stroke-width="2"/>
<text transform="translate(907.68,1175.80) scale(0.9700,1)" font-size="28.5" fill="#000" stroke="#000" stroke-width="0.3">14</text>
<line x1="981.40" y1="1147.40" x2="981.40" y2="1142.40" stroke="#000" stroke-width="2"/>
<text transform="translate(965.55,1175.80) scale(0.9700,1)" font-size="28.5" fill="#000" stroke="#000" stroke-width="0.3">15</text>
<text transform="translate(668.75,1204.20) scale(0.9918,1)" font-size="29.1" fill="#000" stroke="#000" stroke-width="0.1">Toughness (MJ m</text>
<text transform="translate(899.11,1191.50) scale(1.1753,1)" font-size="17" fill="#000" stroke="#000" stroke-width="0.1">-3</text>
<text transform="translate(918.86,1203.60) scale(0.9429,1)" font-size="26" fill="#000" stroke="#000" stroke-width="0.1">)</text>
<text transform="translate(542.90,1091.50) rotate(-90) scale(1.0306,1) translate(-2.24,0)" font-size="27.3" fill="#000" stroke="#000" stroke-width="0.1">Density(g cm</text>
<text transform="translate(531.30,929.10) rotate(-90) scale(1.1239,1) translate(-0.76,0)" font-size="17" fill="#000" stroke="#000" stroke-width="0.1">-3</text>
<text transform="translate(542.50,910.30) rotate(-90) scale(0.8559,1) translate(-0.15,0)" font-size="26" fill="#000" stroke="#000" stroke-width="0.1">)</text>
<text transform="translate(657.94,882.40) scale(1.1750,1)" font-size="24.4" fill="#000" stroke="#000" stroke-width="0.1">Concrete</text>
<text transform="translate(605.69,987.40) scale(1.2422,1)" font-size="22.7" fill="#6b1a40" stroke="#6b1a40" stroke-width="0.1">Epoxy</text>
<text transform="translate(717.88,996.00) scale(1.1879,1)" font-size="23.5" fill="#e8409a" stroke="#e8409a" stroke-width="0.1">Wood</text>
<text transform="translate(654.56,1034.00) scale(1.1230,1)" font-size="26.5" fill="#1a7a30" stroke="#1a7a30" stroke-width="0.1">Leather</text>
<text transform="translate(607.60,1061.00) scale(1.3228,1)" font-size="22.1" fill="#f08a3a" stroke="#f08a3a" stroke-width="0.1">Rubber</text>
<text transform="translate(659.65,1100.20) scale(1.1211,1)" font-size="25.6" fill="#5a3ca8" stroke="#5a3ca8" stroke-width="0.1">Polyurethane</text>
<text transform="translate(856.87,1098.50) scale(1.0968,1)" font-size="25.7" fill="#ee1c24" stroke="#ee1c24" stroke-width="0.1">This work</text>
<path d="M631.25,875.0 L638.75,867.5 L646.25,875.0 Q638.75,877.5 631.25,875.0 Z" fill="#000"/>
<path d="M631.25,875.0 L638.75,867.5 L646.25,875.0 L638.75,882.5 Z" fill="none" stroke="#000" stroke-width="1.6"/>
<polygon points="602.00,1001.00 611.00,995.00 611.00,1007.00" fill="#6b1a40"/>
<polygon points="700.00,991.00 707.50,983.50 715.00,991.00 707.50,998.50" fill="#e8409a"/>
<polygon points="620.00,1026.60 627.50,1016.00 635.00,1026.60" fill="#f08a3a"/>
<path d="M639.5,1027.8 L646.5,1020.8 L653.5,1027.8 Q646.5,1030.3 639.5,1027.8 Z" fill="#1a7a30"/>
<path d="M639.5,1027.8 L646.5,1020.8 L653.5,1027.8 L646.5,1034.8 Z" fill="none" stroke="#1a7a30" stroke-width="1.6"/>
<polygon points="770.50,1108.40 783.40,1108.40 777.00,1120.40" fill="#5a3ca8"/>
<line x1="877.00" y1="1034.00" x2="915.00" y2="1066.00" stroke="#ee1c24" stroke-width="3.0" stroke-linecap="round"/>
<polygon points="906.00,1064.00 914.00,1054.00 926.50,1074.50" fill="#ee1c24"/>
<polygon points="962.50,1104.50 965.91,1111.81 973.91,1112.79 968.02,1118.29 969.55,1126.21 962.50,1122.30 955.45,1126.21 956.98,1118.29 951.09,1112.79 959.09,1111.81" fill="#ee1c24"/>
</svg>
</body></html>
